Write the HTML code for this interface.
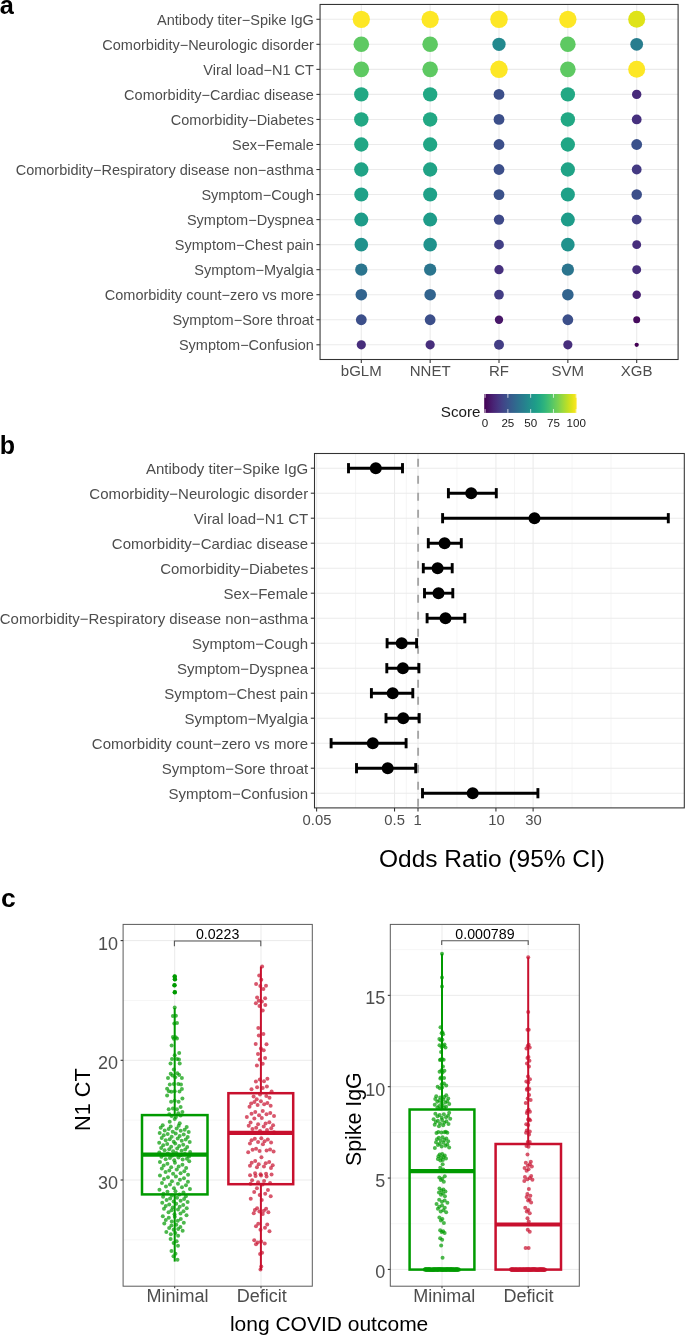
<!DOCTYPE html>
<html><head><meta charset="utf-8"><title>Figure</title>
<style>
html,body{margin:0;padding:0;background:#fff;}
body{width:685px;height:1336px;overflow:hidden;}
svg{display:block;font-family:"Liberation Sans", sans-serif;filter:blur(0.3px);}
</style></head>
<body>
<svg width="685" height="1336" viewBox="0 0 685 1336">
<rect width="685" height="1336" fill="#fff"/>
<text x="-0.3" y="14" font-size="25.3" text-anchor="start" fill="#000" font-weight="bold">a</text>
<line x1="320.05" y1="19.28" x2="678.1" y2="19.28" stroke="#ebebeb" stroke-width="1.07"/>
<line x1="320.05" y1="44.32" x2="678.1" y2="44.32" stroke="#ebebeb" stroke-width="1.07"/>
<line x1="320.05" y1="69.36" x2="678.1" y2="69.36" stroke="#ebebeb" stroke-width="1.07"/>
<line x1="320.05" y1="94.4" x2="678.1" y2="94.4" stroke="#ebebeb" stroke-width="1.07"/>
<line x1="320.05" y1="119.44" x2="678.1" y2="119.44" stroke="#ebebeb" stroke-width="1.07"/>
<line x1="320.05" y1="144.48" x2="678.1" y2="144.48" stroke="#ebebeb" stroke-width="1.07"/>
<line x1="320.05" y1="169.52" x2="678.1" y2="169.52" stroke="#ebebeb" stroke-width="1.07"/>
<line x1="320.05" y1="194.56" x2="678.1" y2="194.56" stroke="#ebebeb" stroke-width="1.07"/>
<line x1="320.05" y1="219.6" x2="678.1" y2="219.6" stroke="#ebebeb" stroke-width="1.07"/>
<line x1="320.05" y1="244.64" x2="678.1" y2="244.64" stroke="#ebebeb" stroke-width="1.07"/>
<line x1="320.05" y1="269.68" x2="678.1" y2="269.68" stroke="#ebebeb" stroke-width="1.07"/>
<line x1="320.05" y1="294.72" x2="678.1" y2="294.72" stroke="#ebebeb" stroke-width="1.07"/>
<line x1="320.05" y1="319.76" x2="678.1" y2="319.76" stroke="#ebebeb" stroke-width="1.07"/>
<line x1="320.05" y1="344.8" x2="678.1" y2="344.8" stroke="#ebebeb" stroke-width="1.07"/>
<line x1="361.3" y1="4.45" x2="361.3" y2="359.5" stroke="#ebebeb" stroke-width="1.07"/>
<line x1="430.15" y1="4.45" x2="430.15" y2="359.5" stroke="#ebebeb" stroke-width="1.07"/>
<line x1="499" y1="4.45" x2="499" y2="359.5" stroke="#ebebeb" stroke-width="1.07"/>
<line x1="567.85" y1="4.45" x2="567.85" y2="359.5" stroke="#ebebeb" stroke-width="1.07"/>
<line x1="636.7" y1="4.45" x2="636.7" y2="359.5" stroke="#ebebeb" stroke-width="1.07"/>
<circle cx="361.3" cy="19.28" r="8.65" fill="#fde725"/>
<circle cx="361.3" cy="44.32" r="7.8" fill="#5ec962"/>
<circle cx="361.3" cy="69.36" r="7.8" fill="#5ec962"/>
<circle cx="361.3" cy="94.4" r="7.2" fill="#22a884"/>
<circle cx="361.3" cy="119.44" r="7.2" fill="#22a884"/>
<circle cx="361.3" cy="144.48" r="7.15" fill="#21a685"/>
<circle cx="361.3" cy="169.52" r="7.15" fill="#20a386"/>
<circle cx="361.3" cy="194.56" r="7.05" fill="#1fa188"/>
<circle cx="361.3" cy="219.6" r="7" fill="#1e9c89"/>
<circle cx="361.3" cy="244.64" r="6.8" fill="#20928c"/>
<circle cx="361.3" cy="269.68" r="6.15" fill="#2b758e"/>
<circle cx="361.3" cy="294.72" r="5.8" fill="#32648e"/>
<circle cx="361.3" cy="319.76" r="5.4" fill="#3c4f8a"/>
<circle cx="361.3" cy="344.8" r="4.6" fill="#472e7c"/>
<circle cx="430.15" cy="19.28" r="8.65" fill="#fde725"/>
<circle cx="430.15" cy="44.32" r="7.8" fill="#5ec962"/>
<circle cx="430.15" cy="69.36" r="7.8" fill="#5ec962"/>
<circle cx="430.15" cy="94.4" r="7.2" fill="#22a884"/>
<circle cx="430.15" cy="119.44" r="7.2" fill="#22a884"/>
<circle cx="430.15" cy="144.48" r="7.15" fill="#21a685"/>
<circle cx="430.15" cy="169.52" r="7.15" fill="#20a386"/>
<circle cx="430.15" cy="194.56" r="7.05" fill="#1fa188"/>
<circle cx="430.15" cy="219.6" r="7" fill="#1e9c89"/>
<circle cx="430.15" cy="244.64" r="6.8" fill="#20928c"/>
<circle cx="430.15" cy="269.68" r="6.15" fill="#2b758e"/>
<circle cx="430.15" cy="294.72" r="5.8" fill="#32648e"/>
<circle cx="430.15" cy="319.76" r="5.4" fill="#3c4f8a"/>
<circle cx="430.15" cy="344.8" r="4.6" fill="#472e7c"/>
<circle cx="499" cy="19.28" r="8.75" fill="#fde725"/>
<circle cx="499" cy="44.32" r="6.65" fill="#23898e"/>
<circle cx="499" cy="69.36" r="8.75" fill="#fde725"/>
<circle cx="499" cy="94.4" r="5.4" fill="#3c4f8a"/>
<circle cx="499" cy="119.44" r="5.4" fill="#3c4f8a"/>
<circle cx="499" cy="144.48" r="5.4" fill="#3c4f8a"/>
<circle cx="499" cy="169.52" r="5.4" fill="#3c4f8a"/>
<circle cx="499" cy="194.56" r="5.4" fill="#3b528b"/>
<circle cx="499" cy="219.6" r="5.2" fill="#3e4989"/>
<circle cx="499" cy="244.64" r="4.9" fill="#424086"/>
<circle cx="499" cy="269.68" r="4.65" fill="#46307e"/>
<circle cx="499" cy="294.72" r="4.85" fill="#433e85"/>
<circle cx="499" cy="319.76" r="4.2" fill="#481769"/>
<circle cx="499" cy="344.8" r="5" fill="#433e85"/>
<circle cx="567.85" cy="19.28" r="8.65" fill="#fde725"/>
<circle cx="567.85" cy="44.32" r="7.8" fill="#5ec962"/>
<circle cx="567.85" cy="69.36" r="7.8" fill="#5ec962"/>
<circle cx="567.85" cy="94.4" r="7.2" fill="#22a884"/>
<circle cx="567.85" cy="119.44" r="7.2" fill="#22a884"/>
<circle cx="567.85" cy="144.48" r="7.15" fill="#21a685"/>
<circle cx="567.85" cy="169.52" r="7.15" fill="#20a386"/>
<circle cx="567.85" cy="194.56" r="7.05" fill="#1fa188"/>
<circle cx="567.85" cy="219.6" r="7" fill="#1e9c89"/>
<circle cx="567.85" cy="244.64" r="6.8" fill="#20928c"/>
<circle cx="567.85" cy="269.68" r="6.15" fill="#2b758e"/>
<circle cx="567.85" cy="294.72" r="5.8" fill="#32648e"/>
<circle cx="567.85" cy="319.76" r="5.4" fill="#3c4f8a"/>
<circle cx="567.85" cy="344.8" r="4.6" fill="#472e7c"/>
<circle cx="636.7" cy="19.28" r="8.5" fill="#dfe318"/>
<circle cx="636.7" cy="44.32" r="6.4" fill="#287d8e"/>
<circle cx="636.7" cy="69.36" r="8.5" fill="#fde725"/>
<circle cx="636.7" cy="94.4" r="4.7" fill="#472a7a"/>
<circle cx="636.7" cy="119.44" r="4.9" fill="#46307e"/>
<circle cx="636.7" cy="144.48" r="5.4" fill="#3b528b"/>
<circle cx="636.7" cy="169.52" r="4.9" fill="#443a83"/>
<circle cx="636.7" cy="194.56" r="5.25" fill="#3c4f8a"/>
<circle cx="636.7" cy="219.6" r="4.9" fill="#433e85"/>
<circle cx="636.7" cy="244.64" r="4.45" fill="#472e7c"/>
<circle cx="636.7" cy="269.68" r="4.45" fill="#472e7c"/>
<circle cx="636.7" cy="294.72" r="4.25" fill="#482173"/>
<circle cx="636.7" cy="319.76" r="3.5" fill="#460b5e"/>
<circle cx="636.7" cy="344.8" r="2.15" fill="#440154"/>
<rect x="320.05" y="4.45" width="358.05" height="355.05" fill="none" stroke="#333333" stroke-width="1.07"/>
<line x1="316.4" y1="19.28" x2="320.05" y2="19.28" stroke="#333333" stroke-width="1.07"/>
<text x="313.9" y="24.68" font-size="14.5" text-anchor="end" fill="#4d4d4d">Antibody titer−Spike IgG</text>
<line x1="316.4" y1="44.32" x2="320.05" y2="44.32" stroke="#333333" stroke-width="1.07"/>
<text x="313.9" y="49.72" font-size="14.5" text-anchor="end" fill="#4d4d4d">Comorbidity−Neurologic disorder</text>
<line x1="316.4" y1="69.36" x2="320.05" y2="69.36" stroke="#333333" stroke-width="1.07"/>
<text x="313.9" y="74.76" font-size="14.5" text-anchor="end" fill="#4d4d4d">Viral load−N1 CT</text>
<line x1="316.4" y1="94.4" x2="320.05" y2="94.4" stroke="#333333" stroke-width="1.07"/>
<text x="313.9" y="99.8" font-size="14.5" text-anchor="end" fill="#4d4d4d">Comorbidity−Cardiac disease</text>
<line x1="316.4" y1="119.44" x2="320.05" y2="119.44" stroke="#333333" stroke-width="1.07"/>
<text x="313.9" y="124.84" font-size="14.5" text-anchor="end" fill="#4d4d4d">Comorbidity−Diabetes</text>
<line x1="316.4" y1="144.48" x2="320.05" y2="144.48" stroke="#333333" stroke-width="1.07"/>
<text x="313.9" y="149.88" font-size="14.5" text-anchor="end" fill="#4d4d4d">Sex−Female</text>
<line x1="316.4" y1="169.52" x2="320.05" y2="169.52" stroke="#333333" stroke-width="1.07"/>
<text x="313.9" y="174.92" font-size="14.5" text-anchor="end" fill="#4d4d4d">Comorbidity−Respiratory disease non−asthma</text>
<line x1="316.4" y1="194.56" x2="320.05" y2="194.56" stroke="#333333" stroke-width="1.07"/>
<text x="313.9" y="199.96" font-size="14.5" text-anchor="end" fill="#4d4d4d">Symptom−Cough</text>
<line x1="316.4" y1="219.6" x2="320.05" y2="219.6" stroke="#333333" stroke-width="1.07"/>
<text x="313.9" y="225" font-size="14.5" text-anchor="end" fill="#4d4d4d">Symptom−Dyspnea</text>
<line x1="316.4" y1="244.64" x2="320.05" y2="244.64" stroke="#333333" stroke-width="1.07"/>
<text x="313.9" y="250.04" font-size="14.5" text-anchor="end" fill="#4d4d4d">Symptom−Chest pain</text>
<line x1="316.4" y1="269.68" x2="320.05" y2="269.68" stroke="#333333" stroke-width="1.07"/>
<text x="313.9" y="275.08" font-size="14.5" text-anchor="end" fill="#4d4d4d">Symptom−Myalgia</text>
<line x1="316.4" y1="294.72" x2="320.05" y2="294.72" stroke="#333333" stroke-width="1.07"/>
<text x="313.9" y="300.12" font-size="14.5" text-anchor="end" fill="#4d4d4d">Comorbidity count−zero vs more</text>
<line x1="316.4" y1="319.76" x2="320.05" y2="319.76" stroke="#333333" stroke-width="1.07"/>
<text x="313.9" y="325.16" font-size="14.5" text-anchor="end" fill="#4d4d4d">Symptom−Sore throat</text>
<line x1="316.4" y1="344.8" x2="320.05" y2="344.8" stroke="#333333" stroke-width="1.07"/>
<text x="313.9" y="350.2" font-size="14.5" text-anchor="end" fill="#4d4d4d">Symptom−Confusion</text>
<line x1="361.3" y1="359.5" x2="361.3" y2="363" stroke="#333333" stroke-width="1.07"/>
<text x="361.3" y="376" font-size="15" text-anchor="middle" fill="#4d4d4d">bGLM</text>
<line x1="430.15" y1="359.5" x2="430.15" y2="363" stroke="#333333" stroke-width="1.07"/>
<text x="430.15" y="376" font-size="15" text-anchor="middle" fill="#4d4d4d">NNET</text>
<line x1="499" y1="359.5" x2="499" y2="363" stroke="#333333" stroke-width="1.07"/>
<text x="499" y="376" font-size="15" text-anchor="middle" fill="#4d4d4d">RF</text>
<line x1="567.85" y1="359.5" x2="567.85" y2="363" stroke="#333333" stroke-width="1.07"/>
<text x="567.85" y="376" font-size="15" text-anchor="middle" fill="#4d4d4d">SVM</text>
<line x1="636.7" y1="359.5" x2="636.7" y2="363" stroke="#333333" stroke-width="1.07"/>
<text x="636.7" y="376" font-size="15" text-anchor="middle" fill="#4d4d4d">XGB</text>
<defs><linearGradient id="vg" x1="0" x2="1" y1="0" y2="0">
<stop offset="0" stop-color="#440154"/>
<stop offset="0.05" stop-color="#471365"/>
<stop offset="0.1" stop-color="#482475"/>
<stop offset="0.15" stop-color="#463480"/>
<stop offset="0.2" stop-color="#414487"/>
<stop offset="0.25" stop-color="#3b528b"/>
<stop offset="0.3" stop-color="#355f8d"/>
<stop offset="0.35" stop-color="#2f6c8e"/>
<stop offset="0.4" stop-color="#2a788e"/>
<stop offset="0.45" stop-color="#25848e"/>
<stop offset="0.5" stop-color="#21918c"/>
<stop offset="0.55" stop-color="#1e9c89"/>
<stop offset="0.6" stop-color="#22a884"/>
<stop offset="0.65" stop-color="#2fb47c"/>
<stop offset="0.7" stop-color="#44bf70"/>
<stop offset="0.75" stop-color="#5ec962"/>
<stop offset="0.8" stop-color="#7ad151"/>
<stop offset="0.85" stop-color="#9bd93c"/>
<stop offset="0.9" stop-color="#bddf26"/>
<stop offset="0.95" stop-color="#dfe318"/>
<stop offset="1" stop-color="#fde725"/>
</linearGradient></defs>
<rect x="484.2" y="394" width="92.4" height="18.9" fill="url(#vg)"/>
<line x1="485.1" y1="394" x2="485.1" y2="397.8" stroke="rgba(255,255,255,0.75)" stroke-width="1"/>
<line x1="485.1" y1="409.1" x2="485.1" y2="412.9" stroke="rgba(255,255,255,0.75)" stroke-width="1"/>
<text x="485.1" y="427.1" font-size="11.6" text-anchor="middle" fill="#1a1a1a">0</text>
<line x1="507.88" y1="394" x2="507.88" y2="397.8" stroke="rgba(255,255,255,0.75)" stroke-width="1"/>
<line x1="507.88" y1="409.1" x2="507.88" y2="412.9" stroke="rgba(255,255,255,0.75)" stroke-width="1"/>
<text x="507.88" y="427.1" font-size="11.6" text-anchor="middle" fill="#1a1a1a">25</text>
<line x1="530.66" y1="394" x2="530.66" y2="397.8" stroke="rgba(255,255,255,0.75)" stroke-width="1"/>
<line x1="530.66" y1="409.1" x2="530.66" y2="412.9" stroke="rgba(255,255,255,0.75)" stroke-width="1"/>
<text x="530.66" y="427.1" font-size="11.6" text-anchor="middle" fill="#1a1a1a">50</text>
<line x1="553.44" y1="394" x2="553.44" y2="397.8" stroke="rgba(255,255,255,0.75)" stroke-width="1"/>
<line x1="553.44" y1="409.1" x2="553.44" y2="412.9" stroke="rgba(255,255,255,0.75)" stroke-width="1"/>
<text x="553.44" y="427.1" font-size="11.6" text-anchor="middle" fill="#1a1a1a">75</text>
<line x1="576.22" y1="394" x2="576.22" y2="397.8" stroke="rgba(255,255,255,0.75)" stroke-width="1"/>
<line x1="576.22" y1="409.1" x2="576.22" y2="412.9" stroke="rgba(255,255,255,0.75)" stroke-width="1"/>
<text x="576.22" y="427.1" font-size="11.6" text-anchor="middle" fill="#1a1a1a">100</text>
<text x="440.8" y="417.2" font-size="15.2" text-anchor="start" fill="#1a1a1a">Score</text>
<text x="-0.2" y="453.6" font-size="25" text-anchor="start" fill="#000" font-weight="bold">b</text>
<line x1="355.58" y1="453.5" x2="355.58" y2="807.9" stroke="#f3f3f3" stroke-width="0.8"/>
<line x1="406.27" y1="453.5" x2="406.27" y2="807.9" stroke="#f3f3f3" stroke-width="0.8"/>
<line x1="456.97" y1="453.5" x2="456.97" y2="807.9" stroke="#f3f3f3" stroke-width="0.8"/>
<line x1="514.52" y1="453.5" x2="514.52" y2="807.9" stroke="#f3f3f3" stroke-width="0.8"/>
<line x1="572.07" y1="453.5" x2="572.07" y2="807.9" stroke="#f3f3f3" stroke-width="0.8"/>
<line x1="611.03" y1="453.5" x2="611.03" y2="807.9" stroke="#f3f3f3" stroke-width="0.8"/>
<line x1="314.5" y1="468.2" x2="684.3" y2="468.2" stroke="#ebebeb" stroke-width="1.07"/>
<line x1="314.5" y1="493.2" x2="684.3" y2="493.2" stroke="#ebebeb" stroke-width="1.07"/>
<line x1="314.5" y1="518.2" x2="684.3" y2="518.2" stroke="#ebebeb" stroke-width="1.07"/>
<line x1="314.5" y1="543.2" x2="684.3" y2="543.2" stroke="#ebebeb" stroke-width="1.07"/>
<line x1="314.5" y1="568.2" x2="684.3" y2="568.2" stroke="#ebebeb" stroke-width="1.07"/>
<line x1="314.5" y1="593.2" x2="684.3" y2="593.2" stroke="#ebebeb" stroke-width="1.07"/>
<line x1="314.5" y1="618.2" x2="684.3" y2="618.2" stroke="#ebebeb" stroke-width="1.07"/>
<line x1="314.5" y1="643.2" x2="684.3" y2="643.2" stroke="#ebebeb" stroke-width="1.07"/>
<line x1="314.5" y1="668.2" x2="684.3" y2="668.2" stroke="#ebebeb" stroke-width="1.07"/>
<line x1="314.5" y1="693.2" x2="684.3" y2="693.2" stroke="#ebebeb" stroke-width="1.07"/>
<line x1="314.5" y1="718.2" x2="684.3" y2="718.2" stroke="#ebebeb" stroke-width="1.07"/>
<line x1="314.5" y1="743.2" x2="684.3" y2="743.2" stroke="#ebebeb" stroke-width="1.07"/>
<line x1="314.5" y1="768.2" x2="684.3" y2="768.2" stroke="#ebebeb" stroke-width="1.07"/>
<line x1="314.5" y1="793.2" x2="684.3" y2="793.2" stroke="#ebebeb" stroke-width="1.07"/>
<line x1="316.61" y1="453.5" x2="316.61" y2="807.9" stroke="#ebebeb" stroke-width="1.07"/>
<line x1="394.54" y1="453.5" x2="394.54" y2="807.9" stroke="#ebebeb" stroke-width="1.07"/>
<line x1="418" y1="453.5" x2="418" y2="807.9" stroke="#ebebeb" stroke-width="1.07"/>
<line x1="495.93" y1="453.5" x2="495.93" y2="807.9" stroke="#ebebeb" stroke-width="1.07"/>
<line x1="533.11" y1="453.5" x2="533.11" y2="807.9" stroke="#ebebeb" stroke-width="1.07"/>
<line x1="418.1" y1="806.7" x2="418.1" y2="453.5" stroke="#a6a6a6" stroke-width="1.9" stroke-dasharray="8 9"/>
<line x1="348.5" y1="468.2" x2="402.5" y2="468.2" stroke="#000" stroke-width="2.9"/>
<line x1="348.5" y1="463.1" x2="348.5" y2="473.3" stroke="#000" stroke-width="2.9"/>
<line x1="402.5" y1="463.1" x2="402.5" y2="473.3" stroke="#000" stroke-width="2.9"/>
<circle cx="375.8" cy="468.2" r="6.0" fill="#000"/>
<line x1="448.4" y1="493.2" x2="496.3" y2="493.2" stroke="#000" stroke-width="2.9"/>
<line x1="448.4" y1="488.1" x2="448.4" y2="498.3" stroke="#000" stroke-width="2.9"/>
<line x1="496.3" y1="488.1" x2="496.3" y2="498.3" stroke="#000" stroke-width="2.9"/>
<circle cx="471.2" cy="493.2" r="6.0" fill="#000"/>
<line x1="442.6" y1="518.2" x2="668.3" y2="518.2" stroke="#000" stroke-width="2.9"/>
<line x1="442.6" y1="513.1" x2="442.6" y2="523.3" stroke="#000" stroke-width="2.9"/>
<line x1="668.3" y1="513.1" x2="668.3" y2="523.3" stroke="#000" stroke-width="2.9"/>
<circle cx="534.5" cy="518.2" r="6.0" fill="#000"/>
<line x1="428.3" y1="543.2" x2="461.3" y2="543.2" stroke="#000" stroke-width="2.9"/>
<line x1="428.3" y1="538.1" x2="428.3" y2="548.3" stroke="#000" stroke-width="2.9"/>
<line x1="461.3" y1="538.1" x2="461.3" y2="548.3" stroke="#000" stroke-width="2.9"/>
<circle cx="444.6" cy="543.2" r="6.0" fill="#000"/>
<line x1="423.3" y1="568.2" x2="452.2" y2="568.2" stroke="#000" stroke-width="2.9"/>
<line x1="423.3" y1="563.1" x2="423.3" y2="573.3" stroke="#000" stroke-width="2.9"/>
<line x1="452.2" y1="563.1" x2="452.2" y2="573.3" stroke="#000" stroke-width="2.9"/>
<circle cx="437.6" cy="568.2" r="6.0" fill="#000"/>
<line x1="424.5" y1="593.2" x2="452.8" y2="593.2" stroke="#000" stroke-width="2.9"/>
<line x1="424.5" y1="588.1" x2="424.5" y2="598.3" stroke="#000" stroke-width="2.9"/>
<line x1="452.8" y1="588.1" x2="452.8" y2="598.3" stroke="#000" stroke-width="2.9"/>
<circle cx="438.5" cy="593.2" r="6.0" fill="#000"/>
<line x1="427.1" y1="618.2" x2="464.8" y2="618.2" stroke="#000" stroke-width="2.9"/>
<line x1="427.1" y1="613.1" x2="427.1" y2="623.3" stroke="#000" stroke-width="2.9"/>
<line x1="464.8" y1="613.1" x2="464.8" y2="623.3" stroke="#000" stroke-width="2.9"/>
<circle cx="445.5" cy="618.2" r="6.0" fill="#000"/>
<line x1="387.1" y1="643.2" x2="416.6" y2="643.2" stroke="#000" stroke-width="2.9"/>
<line x1="387.1" y1="638.1" x2="387.1" y2="648.3" stroke="#000" stroke-width="2.9"/>
<line x1="416.6" y1="638.1" x2="416.6" y2="648.3" stroke="#000" stroke-width="2.9"/>
<circle cx="401.7" cy="643.2" r="6.0" fill="#000"/>
<line x1="386.8" y1="668.2" x2="418.9" y2="668.2" stroke="#000" stroke-width="2.9"/>
<line x1="386.8" y1="663.1" x2="386.8" y2="673.3" stroke="#000" stroke-width="2.9"/>
<line x1="418.9" y1="663.1" x2="418.9" y2="673.3" stroke="#000" stroke-width="2.9"/>
<circle cx="402.9" cy="668.2" r="6.0" fill="#000"/>
<line x1="371.4" y1="693.2" x2="412.8" y2="693.2" stroke="#000" stroke-width="2.9"/>
<line x1="371.4" y1="688.1" x2="371.4" y2="698.3" stroke="#000" stroke-width="2.9"/>
<line x1="412.8" y1="688.1" x2="412.8" y2="698.3" stroke="#000" stroke-width="2.9"/>
<circle cx="392.7" cy="693.2" r="6.0" fill="#000"/>
<line x1="386" y1="718.2" x2="419.2" y2="718.2" stroke="#000" stroke-width="2.9"/>
<line x1="386" y1="713.1" x2="386" y2="723.3" stroke="#000" stroke-width="2.9"/>
<line x1="419.2" y1="713.1" x2="419.2" y2="723.3" stroke="#000" stroke-width="2.9"/>
<circle cx="403.2" cy="718.2" r="6.0" fill="#000"/>
<line x1="331.1" y1="743.2" x2="406.1" y2="743.2" stroke="#000" stroke-width="2.9"/>
<line x1="331.1" y1="738.1" x2="331.1" y2="748.3" stroke="#000" stroke-width="2.9"/>
<line x1="406.1" y1="738.1" x2="406.1" y2="748.3" stroke="#000" stroke-width="2.9"/>
<circle cx="372.8" cy="743.2" r="6.0" fill="#000"/>
<line x1="356.5" y1="768.2" x2="415.7" y2="768.2" stroke="#000" stroke-width="2.9"/>
<line x1="356.5" y1="763.1" x2="356.5" y2="773.3" stroke="#000" stroke-width="2.9"/>
<line x1="415.7" y1="763.1" x2="415.7" y2="773.3" stroke="#000" stroke-width="2.9"/>
<circle cx="387.7" cy="768.2" r="6.0" fill="#000"/>
<line x1="422.5" y1="793.2" x2="537.9" y2="793.2" stroke="#000" stroke-width="2.9"/>
<line x1="422.5" y1="788.1" x2="422.5" y2="798.3" stroke="#000" stroke-width="2.9"/>
<line x1="537.9" y1="788.1" x2="537.9" y2="798.3" stroke="#000" stroke-width="2.9"/>
<circle cx="472.7" cy="793.2" r="6.0" fill="#000"/>
<rect x="314.5" y="453.5" width="369.8" height="354.4" fill="none" stroke="#333333" stroke-width="1.07"/>
<line x1="310.8" y1="468.2" x2="314.5" y2="468.2" stroke="#333333" stroke-width="1.07"/>
<text x="308.2" y="473.7" font-size="15" text-anchor="end" fill="#4d4d4d">Antibody titer−Spike IgG</text>
<line x1="310.8" y1="493.2" x2="314.5" y2="493.2" stroke="#333333" stroke-width="1.07"/>
<text x="308.2" y="498.7" font-size="15" text-anchor="end" fill="#4d4d4d">Comorbidity−Neurologic disorder</text>
<line x1="310.8" y1="518.2" x2="314.5" y2="518.2" stroke="#333333" stroke-width="1.07"/>
<text x="308.2" y="523.7" font-size="15" text-anchor="end" fill="#4d4d4d">Viral load−N1 CT</text>
<line x1="310.8" y1="543.2" x2="314.5" y2="543.2" stroke="#333333" stroke-width="1.07"/>
<text x="308.2" y="548.7" font-size="15" text-anchor="end" fill="#4d4d4d">Comorbidity−Cardiac disease</text>
<line x1="310.8" y1="568.2" x2="314.5" y2="568.2" stroke="#333333" stroke-width="1.07"/>
<text x="308.2" y="573.7" font-size="15" text-anchor="end" fill="#4d4d4d">Comorbidity−Diabetes</text>
<line x1="310.8" y1="593.2" x2="314.5" y2="593.2" stroke="#333333" stroke-width="1.07"/>
<text x="308.2" y="598.7" font-size="15" text-anchor="end" fill="#4d4d4d">Sex−Female</text>
<line x1="310.8" y1="618.2" x2="314.5" y2="618.2" stroke="#333333" stroke-width="1.07"/>
<text x="308.2" y="623.7" font-size="15" text-anchor="end" fill="#4d4d4d">Comorbidity−Respiratory disease non−asthma</text>
<line x1="310.8" y1="643.2" x2="314.5" y2="643.2" stroke="#333333" stroke-width="1.07"/>
<text x="308.2" y="648.7" font-size="15" text-anchor="end" fill="#4d4d4d">Symptom−Cough</text>
<line x1="310.8" y1="668.2" x2="314.5" y2="668.2" stroke="#333333" stroke-width="1.07"/>
<text x="308.2" y="673.7" font-size="15" text-anchor="end" fill="#4d4d4d">Symptom−Dyspnea</text>
<line x1="310.8" y1="693.2" x2="314.5" y2="693.2" stroke="#333333" stroke-width="1.07"/>
<text x="308.2" y="698.7" font-size="15" text-anchor="end" fill="#4d4d4d">Symptom−Chest pain</text>
<line x1="310.8" y1="718.2" x2="314.5" y2="718.2" stroke="#333333" stroke-width="1.07"/>
<text x="308.2" y="723.7" font-size="15" text-anchor="end" fill="#4d4d4d">Symptom−Myalgia</text>
<line x1="310.8" y1="743.2" x2="314.5" y2="743.2" stroke="#333333" stroke-width="1.07"/>
<text x="308.2" y="748.7" font-size="15" text-anchor="end" fill="#4d4d4d">Comorbidity count−zero vs more</text>
<line x1="310.8" y1="768.2" x2="314.5" y2="768.2" stroke="#333333" stroke-width="1.07"/>
<text x="308.2" y="773.7" font-size="15" text-anchor="end" fill="#4d4d4d">Symptom−Sore throat</text>
<line x1="310.8" y1="793.2" x2="314.5" y2="793.2" stroke="#333333" stroke-width="1.07"/>
<text x="308.2" y="798.7" font-size="15" text-anchor="end" fill="#4d4d4d">Symptom−Confusion</text>
<line x1="316.61" y1="807.9" x2="316.61" y2="811.4" stroke="#333333" stroke-width="1.07"/>
<text x="317" y="825.3" font-size="14.8" text-anchor="middle" fill="#4d4d4d">0.05</text>
<line x1="394.54" y1="807.9" x2="394.54" y2="811.4" stroke="#333333" stroke-width="1.07"/>
<text x="394.6" y="825.3" font-size="14.8" text-anchor="middle" fill="#4d4d4d">0.5</text>
<line x1="418" y1="807.9" x2="418" y2="811.4" stroke="#333333" stroke-width="1.07"/>
<text x="417.6" y="825.3" font-size="14.8" text-anchor="middle" fill="#4d4d4d">1</text>
<line x1="495.93" y1="807.9" x2="495.93" y2="811.4" stroke="#333333" stroke-width="1.07"/>
<text x="496.4" y="825.3" font-size="14.8" text-anchor="middle" fill="#4d4d4d">10</text>
<line x1="533.11" y1="807.9" x2="533.11" y2="811.4" stroke="#333333" stroke-width="1.07"/>
<text x="533.5" y="825.3" font-size="14.8" text-anchor="middle" fill="#4d4d4d">30</text>
<text x="492" y="867.4" font-size="24.5" text-anchor="middle" fill="#000">Odds Ratio (95% CI)</text>
<text x="1" y="906.5" font-size="26.5" text-anchor="start" fill="#000" font-weight="bold">c</text>
<line x1="123.1" y1="1000.45" x2="312.3" y2="1000.45" stroke="#f4f4f4" stroke-width="0.8"/>
<line x1="123.1" y1="1120.15" x2="312.3" y2="1120.15" stroke="#f4f4f4" stroke-width="0.8"/>
<line x1="123.1" y1="1239.85" x2="312.3" y2="1239.85" stroke="#f4f4f4" stroke-width="0.8"/>
<line x1="123.1" y1="940.6" x2="312.3" y2="940.6" stroke="#ebebeb" stroke-width="1"/>
<line x1="123.1" y1="1060.3" x2="312.3" y2="1060.3" stroke="#ebebeb" stroke-width="1"/>
<line x1="123.1" y1="1180" x2="312.3" y2="1180" stroke="#ebebeb" stroke-width="1"/>
<line x1="174.7" y1="924.4" x2="174.7" y2="1286.2" stroke="#ebebeb" stroke-width="1"/>
<line x1="261" y1="924.4" x2="261" y2="1286.2" stroke="#ebebeb" stroke-width="1"/>
<line x1="390.3" y1="1223.73" x2="579.3" y2="1223.73" stroke="#f4f4f4" stroke-width="0.8"/>
<line x1="390.3" y1="1132.38" x2="579.3" y2="1132.38" stroke="#f4f4f4" stroke-width="0.8"/>
<line x1="390.3" y1="1041.03" x2="579.3" y2="1041.03" stroke="#f4f4f4" stroke-width="0.8"/>
<line x1="390.3" y1="949.68" x2="579.3" y2="949.68" stroke="#f4f4f4" stroke-width="0.8"/>
<line x1="390.3" y1="1269.4" x2="579.3" y2="1269.4" stroke="#ebebeb" stroke-width="1"/>
<line x1="390.3" y1="1178.05" x2="579.3" y2="1178.05" stroke="#ebebeb" stroke-width="1"/>
<line x1="390.3" y1="1086.7" x2="579.3" y2="1086.7" stroke="#ebebeb" stroke-width="1"/>
<line x1="390.3" y1="995.35" x2="579.3" y2="995.35" stroke="#ebebeb" stroke-width="1"/>
<line x1="442" y1="924.4" x2="442" y2="1286.2" stroke="#ebebeb" stroke-width="1"/>
<line x1="528.2" y1="924.4" x2="528.2" y2="1286.2" stroke="#ebebeb" stroke-width="1"/>
<line x1="174.7" y1="1008" x2="174.7" y2="1115.1" stroke="#009a00" stroke-width="2"/>
<line x1="174.7" y1="1194.4" x2="174.7" y2="1261.6" stroke="#009a00" stroke-width="2"/>
<rect x="142" y="1115.1" width="65.5" height="79.3" fill="none" stroke="#009a00" stroke-width="2.5"/>
<line x1="142" y1="1154.6" x2="207.5" y2="1154.6" stroke="#009a00" stroke-width="4.2"/>
<line x1="260.9" y1="966.6" x2="260.9" y2="1093.2" stroke="#c8102e" stroke-width="2"/>
<line x1="260.9" y1="1184.2" x2="260.9" y2="1270" stroke="#c8102e" stroke-width="2"/>
<rect x="228.4" y="1093.2" width="64.8" height="91" fill="none" stroke="#c8102e" stroke-width="2.5"/>
<line x1="228.4" y1="1132.8" x2="293.2" y2="1132.8" stroke="#c8102e" stroke-width="4.2"/>
<line x1="442" y1="953.7" x2="442" y2="1109.5" stroke="#009a00" stroke-width="2"/>
<rect x="409.6" y="1109.5" width="64.8" height="160.1" fill="none" stroke="#009a00" stroke-width="2.5"/>
<line x1="409.6" y1="1171.1" x2="474.4" y2="1171.1" stroke="#009a00" stroke-width="4.2"/>
<line x1="528.2" y1="957.2" x2="528.2" y2="1144" stroke="#c8102e" stroke-width="2"/>
<rect x="495.6" y="1144" width="65.4" height="125.6" fill="none" stroke="#c8102e" stroke-width="2.5"/>
<line x1="495.6" y1="1224.5" x2="561" y2="1224.5" stroke="#c8102e" stroke-width="4.2"/>
<circle cx="174.7" cy="976.4" r="2.2" fill="#009a00"/>
<circle cx="174.9" cy="979.2" r="2.2" fill="#009a00"/>
<circle cx="174.5" cy="985.2" r="2.2" fill="#009a00"/>
<circle cx="174.8" cy="992.2" r="2.2" fill="#009a00"/>
<circle cx="174.7" cy="1007.6" r="2" fill="rgba(0,154,0,0.7)"/>
<circle cx="172.9" cy="1016" r="2" fill="rgba(0,154,0,0.7)"/>
<circle cx="175.9" cy="1015.7" r="2" fill="rgba(0,154,0,0.7)"/>
<circle cx="174.3" cy="1023.6" r="2" fill="rgba(0,154,0,0.7)"/>
<circle cx="177" cy="1022.9" r="2" fill="rgba(0,154,0,0.7)"/>
<circle cx="172.9" cy="1037" r="2" fill="rgba(0,154,0,0.7)"/>
<circle cx="175.6" cy="1037.3" r="2" fill="rgba(0,154,0,0.7)"/>
<circle cx="173.8" cy="1038.7" r="2" fill="rgba(0,154,0,0.7)"/>
<circle cx="177" cy="1038.5" r="2" fill="rgba(0,154,0,0.7)"/>
<circle cx="171.6" cy="1045.4" r="2" fill="rgba(0,154,0,0.7)"/>
<circle cx="179.2" cy="1053" r="2" fill="rgba(0,154,0,0.7)"/>
<circle cx="174.7" cy="1055.3" r="2" fill="rgba(0,154,0,0.7)"/>
<circle cx="172" cy="1059.1" r="2" fill="rgba(0,154,0,0.7)"/>
<circle cx="177" cy="1058.9" r="2" fill="rgba(0,154,0,0.7)"/>
<circle cx="179" cy="1059.6" r="2" fill="rgba(0,154,0,0.7)"/>
<circle cx="170.5" cy="1063.4" r="2" fill="rgba(0,154,0,0.7)"/>
<circle cx="179.7" cy="1063.6" r="2" fill="rgba(0,154,0,0.7)"/>
<circle cx="173.8" cy="1069.4" r="2" fill="rgba(0,154,0,0.7)"/>
<circle cx="170.7" cy="1073.7" r="2" fill="rgba(0,154,0,0.7)"/>
<circle cx="177.4" cy="1073.3" r="2" fill="rgba(0,154,0,0.7)"/>
<circle cx="172.5" cy="1075.5" r="2" fill="rgba(0,154,0,0.7)"/>
<circle cx="179.2" cy="1075.1" r="2" fill="rgba(0,154,0,0.7)"/>
<circle cx="168" cy="1078" r="2" fill="rgba(0,154,0,0.7)"/>
<circle cx="181.9" cy="1078" r="2" fill="rgba(0,154,0,0.7)"/>
<circle cx="175.2" cy="1077.3" r="2" fill="rgba(0,154,0,0.7)"/>
<circle cx="169.8" cy="1084.5" r="2" fill="rgba(0,154,0,0.7)"/>
<circle cx="173.8" cy="1084" r="2" fill="rgba(0,154,0,0.7)"/>
<circle cx="178.3" cy="1084" r="2" fill="rgba(0,154,0,0.7)"/>
<circle cx="181" cy="1084.5" r="2" fill="rgba(0,154,0,0.7)"/>
<circle cx="167.1" cy="1088.8" r="2" fill="rgba(0,154,0,0.7)"/>
<circle cx="181.9" cy="1089" r="2" fill="rgba(0,154,0,0.7)"/>
<circle cx="168.9" cy="1091.2" r="2" fill="rgba(0,154,0,0.7)"/>
<circle cx="171.4" cy="1091.7" r="2" fill="rgba(0,154,0,0.7)"/>
<circle cx="174.7" cy="1091.2" r="2" fill="rgba(0,154,0,0.7)"/>
<circle cx="179.5" cy="1091.5" r="2" fill="rgba(0,154,0,0.7)"/>
<circle cx="167.1" cy="1095.5" r="2" fill="rgba(0,154,0,0.7)"/>
<circle cx="182.4" cy="1098.4" r="2" fill="rgba(0,154,0,0.7)"/>
<circle cx="171.1" cy="1101.8" r="2" fill="rgba(0,154,0,0.7)"/>
<circle cx="174.7" cy="1100.7" r="2" fill="rgba(0,154,0,0.7)"/>
<circle cx="178.6" cy="1101.8" r="2" fill="rgba(0,154,0,0.7)"/>
<circle cx="168.7" cy="1109.2" r="2" fill="rgba(0,154,0,0.7)"/>
<circle cx="172.9" cy="1108.6" r="2" fill="rgba(0,154,0,0.7)"/>
<circle cx="177" cy="1109.2" r="2" fill="rgba(0,154,0,0.7)"/>
<circle cx="180.6" cy="1107" r="2" fill="rgba(0,154,0,0.7)"/>
<circle cx="182.4" cy="1111.9" r="2" fill="rgba(0,154,0,0.7)"/>
<circle cx="169.3" cy="1114.2" r="2" fill="rgba(0,154,0,0.7)"/>
<circle cx="171.6" cy="1116" r="2" fill="rgba(0,154,0,0.7)"/>
<circle cx="175.9" cy="1116.9" r="2" fill="rgba(0,154,0,0.7)"/>
<circle cx="178.3" cy="1113.3" r="2" fill="rgba(0,154,0,0.7)"/>
<circle cx="180.6" cy="1115.5" r="2" fill="rgba(0,154,0,0.7)"/>
<circle cx="174.7" cy="1119.05" r="2" fill="rgba(0,154,0,0.7)"/>
<circle cx="169.7" cy="1121.81" r="2" fill="rgba(0,154,0,0.7)"/>
<circle cx="179.7" cy="1123.13" r="2" fill="rgba(0,154,0,0.7)"/>
<circle cx="162.7" cy="1125.24" r="2" fill="rgba(0,154,0,0.7)"/>
<circle cx="178.7" cy="1125.81" r="2" fill="rgba(0,154,0,0.7)"/>
<circle cx="170.7" cy="1126.41" r="2" fill="rgba(0,154,0,0.7)"/>
<circle cx="186.7" cy="1127.07" r="2" fill="rgba(0,154,0,0.7)"/>
<circle cx="160.7" cy="1127.75" r="2" fill="rgba(0,154,0,0.7)"/>
<circle cx="176.7" cy="1128.4" r="2" fill="rgba(0,154,0,0.7)"/>
<circle cx="168.7" cy="1129.08" r="2" fill="rgba(0,154,0,0.7)"/>
<circle cx="184.7" cy="1129.66" r="2" fill="rgba(0,154,0,0.7)"/>
<circle cx="164.7" cy="1130.38" r="2" fill="rgba(0,154,0,0.7)"/>
<circle cx="180.7" cy="1130.83" r="2" fill="rgba(0,154,0,0.7)"/>
<circle cx="172.7" cy="1131.7" r="2" fill="rgba(0,154,0,0.7)"/>
<circle cx="188.7" cy="1132.01" r="2" fill="rgba(0,154,0,0.7)"/>
<circle cx="159.7" cy="1132.88" r="2" fill="rgba(0,154,0,0.7)"/>
<circle cx="175.7" cy="1133.41" r="2" fill="rgba(0,154,0,0.7)"/>
<circle cx="167.7" cy="1134.08" r="2" fill="rgba(0,154,0,0.7)"/>
<circle cx="183.7" cy="1134.55" r="2" fill="rgba(0,154,0,0.7)"/>
<circle cx="163.7" cy="1135.2" r="2" fill="rgba(0,154,0,0.7)"/>
<circle cx="179.7" cy="1136.05" r="2" fill="rgba(0,154,0,0.7)"/>
<circle cx="171.7" cy="1136.74" r="2" fill="rgba(0,154,0,0.7)"/>
<circle cx="187.7" cy="1137.12" r="2" fill="rgba(0,154,0,0.7)"/>
<circle cx="161.7" cy="1137.88" r="2" fill="rgba(0,154,0,0.7)"/>
<circle cx="177.7" cy="1138.58" r="2" fill="rgba(0,154,0,0.7)"/>
<circle cx="169.7" cy="1139.21" r="2" fill="rgba(0,154,0,0.7)"/>
<circle cx="185.7" cy="1139.53" r="2" fill="rgba(0,154,0,0.7)"/>
<circle cx="165.7" cy="1140.14" r="2" fill="rgba(0,154,0,0.7)"/>
<circle cx="181.7" cy="1140.81" r="2" fill="rgba(0,154,0,0.7)"/>
<circle cx="173.7" cy="1141.7" r="2" fill="rgba(0,154,0,0.7)"/>
<circle cx="189.7" cy="1142.04" r="2" fill="rgba(0,154,0,0.7)"/>
<circle cx="159.2" cy="1142.78" r="2" fill="rgba(0,154,0,0.7)"/>
<circle cx="175.2" cy="1143.61" r="2" fill="rgba(0,154,0,0.7)"/>
<circle cx="167.2" cy="1144.07" r="2" fill="rgba(0,154,0,0.7)"/>
<circle cx="183.2" cy="1144.76" r="2" fill="rgba(0,154,0,0.7)"/>
<circle cx="163.2" cy="1145.24" r="2" fill="rgba(0,154,0,0.7)"/>
<circle cx="179.2" cy="1146.01" r="2" fill="rgba(0,154,0,0.7)"/>
<circle cx="171.2" cy="1146.69" r="2" fill="rgba(0,154,0,0.7)"/>
<circle cx="187.2" cy="1147.01" r="2" fill="rgba(0,154,0,0.7)"/>
<circle cx="161.2" cy="1147.91" r="2" fill="rgba(0,154,0,0.7)"/>
<circle cx="177.2" cy="1148.62" r="2" fill="rgba(0,154,0,0.7)"/>
<circle cx="169.2" cy="1149.16" r="2" fill="rgba(0,154,0,0.7)"/>
<circle cx="185.2" cy="1149.61" r="2" fill="rgba(0,154,0,0.7)"/>
<circle cx="164.61" cy="1150.37" r="2" fill="rgba(0,154,0,0.7)"/>
<circle cx="181.61" cy="1150.7" r="2" fill="rgba(0,154,0,0.7)"/>
<circle cx="173.11" cy="1151.37" r="2" fill="rgba(0,154,0,0.7)"/>
<circle cx="190.11" cy="1152.08" r="2" fill="rgba(0,154,0,0.7)"/>
<circle cx="159.29" cy="1152.43" r="2" fill="rgba(0,154,0,0.7)"/>
<circle cx="176.29" cy="1152.98" r="2" fill="rgba(0,154,0,0.7)"/>
<circle cx="167.79" cy="1153.49" r="2" fill="rgba(0,154,0,0.7)"/>
<circle cx="184.79" cy="1154.01" r="2" fill="rgba(0,154,0,0.7)"/>
<circle cx="163.54" cy="1154.78" r="2" fill="rgba(0,154,0,0.7)"/>
<circle cx="180.54" cy="1155.18" r="2" fill="rgba(0,154,0,0.7)"/>
<circle cx="172.04" cy="1155.76" r="2" fill="rgba(0,154,0,0.7)"/>
<circle cx="189.04" cy="1156.39" r="2" fill="rgba(0,154,0,0.7)"/>
<circle cx="161.42" cy="1156.8" r="2" fill="rgba(0,154,0,0.7)"/>
<circle cx="178.42" cy="1157.52" r="2" fill="rgba(0,154,0,0.7)"/>
<circle cx="169.92" cy="1157.94" r="2" fill="rgba(0,154,0,0.7)"/>
<circle cx="186.92" cy="1158.64" r="2" fill="rgba(0,154,0,0.7)"/>
<circle cx="165.67" cy="1159.23" r="2" fill="rgba(0,154,0,0.7)"/>
<circle cx="182.67" cy="1159.59" r="2" fill="rgba(0,154,0,0.7)"/>
<circle cx="174.23" cy="1160.37" r="2" fill="rgba(0,154,0,0.7)"/>
<circle cx="189.23" cy="1161.35" r="2" fill="rgba(0,154,0,0.7)"/>
<circle cx="159.93" cy="1162.04" r="2" fill="rgba(0,154,0,0.7)"/>
<circle cx="174.93" cy="1162.69" r="2" fill="rgba(0,154,0,0.7)"/>
<circle cx="167.43" cy="1163.77" r="2" fill="rgba(0,154,0,0.7)"/>
<circle cx="182.43" cy="1164.67" r="2" fill="rgba(0,154,0,0.7)"/>
<circle cx="163.68" cy="1165.42" r="2" fill="rgba(0,154,0,0.7)"/>
<circle cx="178.68" cy="1166.47" r="2" fill="rgba(0,154,0,0.7)"/>
<circle cx="171.18" cy="1167.13" r="2" fill="rgba(0,154,0,0.7)"/>
<circle cx="186.18" cy="1168.12" r="2" fill="rgba(0,154,0,0.7)"/>
<circle cx="161.81" cy="1168.57" r="2" fill="rgba(0,154,0,0.7)"/>
<circle cx="176.81" cy="1169.4" r="2" fill="rgba(0,154,0,0.7)"/>
<circle cx="169.31" cy="1170.57" r="2" fill="rgba(0,154,0,0.7)"/>
<circle cx="184.31" cy="1171.2" r="2" fill="rgba(0,154,0,0.7)"/>
<circle cx="165.56" cy="1171.92" r="2" fill="rgba(0,154,0,0.7)"/>
<circle cx="180.56" cy="1173.13" r="2" fill="rgba(0,154,0,0.7)"/>
<circle cx="173.06" cy="1173.67" r="2" fill="rgba(0,154,0,0.7)"/>
<circle cx="188.06" cy="1174.71" r="2" fill="rgba(0,154,0,0.7)"/>
<circle cx="159.95" cy="1175.58" r="2" fill="rgba(0,154,0,0.7)"/>
<circle cx="175.95" cy="1176.57" r="2" fill="rgba(0,154,0,0.7)"/>
<circle cx="167.95" cy="1177.34" r="2" fill="rgba(0,154,0,0.7)"/>
<circle cx="183.95" cy="1178.32" r="2" fill="rgba(0,154,0,0.7)"/>
<circle cx="163.95" cy="1179.01" r="2" fill="rgba(0,154,0,0.7)"/>
<circle cx="179.95" cy="1179.87" r="2" fill="rgba(0,154,0,0.7)"/>
<circle cx="171.95" cy="1181.13" r="2" fill="rgba(0,154,0,0.7)"/>
<circle cx="187.95" cy="1181.78" r="2" fill="rgba(0,154,0,0.7)"/>
<circle cx="161.95" cy="1182.98" r="2" fill="rgba(0,154,0,0.7)"/>
<circle cx="177.95" cy="1183.73" r="2" fill="rgba(0,154,0,0.7)"/>
<circle cx="169.95" cy="1184.61" r="2" fill="rgba(0,154,0,0.7)"/>
<circle cx="185.95" cy="1185.24" r="2" fill="rgba(0,154,0,0.7)"/>
<circle cx="165.95" cy="1186.61" r="2" fill="rgba(0,154,0,0.7)"/>
<circle cx="181.95" cy="1187.25" r="2" fill="rgba(0,154,0,0.7)"/>
<circle cx="173.95" cy="1188.22" r="2" fill="rgba(0,154,0,0.7)"/>
<circle cx="189.95" cy="1189.04" r="2" fill="rgba(0,154,0,0.7)"/>
<circle cx="159.45" cy="1189.86" r="2" fill="rgba(0,154,0,0.7)"/>
<circle cx="175.45" cy="1191.13" r="2" fill="rgba(0,154,0,0.7)"/>
<circle cx="167.45" cy="1191.86" r="2" fill="rgba(0,154,0,0.7)"/>
<circle cx="183.45" cy="1192.46" r="2" fill="rgba(0,154,0,0.7)"/>
<circle cx="163.45" cy="1193.7" r="2" fill="rgba(0,154,0,0.7)"/>
<circle cx="179.45" cy="1194.45" r="2" fill="rgba(0,154,0,0.7)"/>
<circle cx="171.86" cy="1195.39" r="2" fill="rgba(0,154,0,0.7)"/>
<circle cx="185.86" cy="1196.3" r="2" fill="rgba(0,154,0,0.7)"/>
<circle cx="163.11" cy="1196.81" r="2" fill="rgba(0,154,0,0.7)"/>
<circle cx="177.11" cy="1197.81" r="2" fill="rgba(0,154,0,0.7)"/>
<circle cx="170.11" cy="1198.43" r="2" fill="rgba(0,154,0,0.7)"/>
<circle cx="184.11" cy="1198.91" r="2" fill="rgba(0,154,0,0.7)"/>
<circle cx="166.61" cy="1200.07" r="2" fill="rgba(0,154,0,0.7)"/>
<circle cx="180.61" cy="1200.71" r="2" fill="rgba(0,154,0,0.7)"/>
<circle cx="173.61" cy="1201.6" r="2" fill="rgba(0,154,0,0.7)"/>
<circle cx="187.61" cy="1201.98" r="2" fill="rgba(0,154,0,0.7)"/>
<circle cx="162.23" cy="1202.71" r="2" fill="rgba(0,154,0,0.7)"/>
<circle cx="176.23" cy="1203.82" r="2" fill="rgba(0,154,0,0.7)"/>
<circle cx="169.23" cy="1204.46" r="2" fill="rgba(0,154,0,0.7)"/>
<circle cx="183.23" cy="1204.93" r="2" fill="rgba(0,154,0,0.7)"/>
<circle cx="165.73" cy="1205.99" r="2" fill="rgba(0,154,0,0.7)"/>
<circle cx="179.73" cy="1206.74" r="2" fill="rgba(0,154,0,0.7)"/>
<circle cx="172.73" cy="1207.57" r="2" fill="rgba(0,154,0,0.7)"/>
<circle cx="186.73" cy="1208.22" r="2" fill="rgba(0,154,0,0.7)"/>
<circle cx="163.98" cy="1208.71" r="2" fill="rgba(0,154,0,0.7)"/>
<circle cx="177.98" cy="1209.41" r="2" fill="rgba(0,154,0,0.7)"/>
<circle cx="171.51" cy="1210.2" r="2" fill="rgba(0,154,0,0.7)"/>
<circle cx="183.51" cy="1211.14" r="2" fill="rgba(0,154,0,0.7)"/>
<circle cx="168.51" cy="1212.2" r="2" fill="rgba(0,154,0,0.7)"/>
<circle cx="180.51" cy="1213.48" r="2" fill="rgba(0,154,0,0.7)"/>
<circle cx="174.51" cy="1214.24" r="2" fill="rgba(0,154,0,0.7)"/>
<circle cx="186.51" cy="1215.19" r="2" fill="rgba(0,154,0,0.7)"/>
<circle cx="162.79" cy="1216.29" r="2" fill="rgba(0,154,0,0.7)"/>
<circle cx="174.79" cy="1216.82" r="2" fill="rgba(0,154,0,0.7)"/>
<circle cx="168.79" cy="1217.84" r="2" fill="rgba(0,154,0,0.7)"/>
<circle cx="180.79" cy="1218.95" r="2" fill="rgba(0,154,0,0.7)"/>
<circle cx="165.79" cy="1220.11" r="2" fill="rgba(0,154,0,0.7)"/>
<circle cx="177.79" cy="1220.82" r="2" fill="rgba(0,154,0,0.7)"/>
<circle cx="171.79" cy="1221.45" r="2" fill="rgba(0,154,0,0.7)"/>
<circle cx="183.79" cy="1222.83" r="2" fill="rgba(0,154,0,0.7)"/>
<circle cx="164.29" cy="1223.44" r="2" fill="rgba(0,154,0,0.7)"/>
<circle cx="176.29" cy="1224.7" r="2" fill="rgba(0,154,0,0.7)"/>
<circle cx="171.4" cy="1225.48" r="2" fill="rgba(0,154,0,0.7)"/>
<circle cx="180.4" cy="1226.91" r="2" fill="rgba(0,154,0,0.7)"/>
<circle cx="169.15" cy="1227.94" r="2" fill="rgba(0,154,0,0.7)"/>
<circle cx="178.15" cy="1228.93" r="2" fill="rgba(0,154,0,0.7)"/>
<circle cx="173.65" cy="1229.76" r="2" fill="rgba(0,154,0,0.7)"/>
<circle cx="182.65" cy="1230.82" r="2" fill="rgba(0,154,0,0.7)"/>
<circle cx="166.33" cy="1231.97" r="2" fill="rgba(0,154,0,0.7)"/>
<circle cx="175.33" cy="1233.03" r="2" fill="rgba(0,154,0,0.7)"/>
<circle cx="170.83" cy="1234.18" r="2" fill="rgba(0,154,0,0.7)"/>
<circle cx="178.12" cy="1235.84" r="2" fill="rgba(0,154,0,0.7)"/>
<circle cx="170.62" cy="1239.07" r="2" fill="rgba(0,154,0,0.7)"/>
<circle cx="176.62" cy="1241.34" r="2" fill="rgba(0,154,0,0.7)"/>
<circle cx="173.62" cy="1243.02" r="2" fill="rgba(0,154,0,0.7)"/>
<circle cx="177.98" cy="1245.83" r="2" fill="rgba(0,154,0,0.7)"/>
<circle cx="171.48" cy="1251.05" r="2" fill="rgba(0,154,0,0.7)"/>
<circle cx="175.48" cy="1253.64" r="2" fill="rgba(0,154,0,0.7)"/>
<circle cx="173.48" cy="1256.29" r="2" fill="rgba(0,154,0,0.7)"/>
<circle cx="177.48" cy="1259.79" r="2" fill="rgba(0,154,0,0.7)"/>
<circle cx="174.7" cy="976.4" r="2" fill="rgba(0,154,0,0.7)"/>
<circle cx="174.9" cy="979.2" r="2" fill="rgba(0,154,0,0.7)"/>
<circle cx="174.5" cy="985.2" r="2" fill="rgba(0,154,0,0.7)"/>
<circle cx="174.8" cy="992.2" r="2" fill="rgba(0,154,0,0.7)"/>
<circle cx="262.1" cy="966.5" r="2" fill="rgba(200,16,46,0.7)"/>
<circle cx="259.2" cy="975.5" r="2" fill="rgba(200,16,46,0.7)"/>
<circle cx="261.3" cy="979.7" r="2" fill="rgba(200,16,46,0.7)"/>
<circle cx="256.1" cy="983.9" r="2" fill="rgba(200,16,46,0.7)"/>
<circle cx="260.3" cy="986" r="2" fill="rgba(200,16,46,0.7)"/>
<circle cx="266" cy="985.7" r="2" fill="rgba(200,16,46,0.7)"/>
<circle cx="263.4" cy="989.1" r="2" fill="rgba(200,16,46,0.7)"/>
<circle cx="257.1" cy="997.5" r="2" fill="rgba(200,16,46,0.7)"/>
<circle cx="265.1" cy="998.2" r="2" fill="rgba(200,16,46,0.7)"/>
<circle cx="258.8" cy="1000.8" r="2" fill="rgba(200,16,46,0.7)"/>
<circle cx="261.9" cy="1001.4" r="2" fill="rgba(200,16,46,0.7)"/>
<circle cx="255.9" cy="1003.2" r="2" fill="rgba(200,16,46,0.7)"/>
<circle cx="265.3" cy="1005" r="2" fill="rgba(200,16,46,0.7)"/>
<circle cx="259.5" cy="1005.9" r="2" fill="rgba(200,16,46,0.7)"/>
<circle cx="262.7" cy="1010.5" r="2" fill="rgba(200,16,46,0.7)"/>
<circle cx="258.3" cy="1028.1" r="2" fill="rgba(200,16,46,0.7)"/>
<circle cx="258.8" cy="1035.6" r="2" fill="rgba(200,16,46,0.7)"/>
<circle cx="263.4" cy="1034.1" r="2" fill="rgba(200,16,46,0.7)"/>
<circle cx="255.7" cy="1044.1" r="2" fill="rgba(200,16,46,0.7)"/>
<circle cx="266.5" cy="1044.3" r="2" fill="rgba(200,16,46,0.7)"/>
<circle cx="260.9" cy="1048.5" r="2" fill="rgba(200,16,46,0.7)"/>
<circle cx="263.7" cy="1050.3" r="2" fill="rgba(200,16,46,0.7)"/>
<circle cx="258" cy="1054" r="2" fill="rgba(200,16,46,0.7)"/>
<circle cx="265.1" cy="1057.9" r="2" fill="rgba(200,16,46,0.7)"/>
<circle cx="259.8" cy="1059.5" r="2" fill="rgba(200,16,46,0.7)"/>
<circle cx="256.9" cy="1065.5" r="2" fill="rgba(200,16,46,0.7)"/>
<circle cx="262.7" cy="1063.7" r="2" fill="rgba(200,16,46,0.7)"/>
<circle cx="259.8" cy="1079.4" r="2" fill="rgba(200,16,46,0.7)"/>
<circle cx="255.9" cy="1081.5" r="2" fill="rgba(200,16,46,0.7)"/>
<circle cx="264" cy="1081.3" r="2" fill="rgba(200,16,46,0.7)"/>
<circle cx="267.4" cy="1078.8" r="2" fill="rgba(200,16,46,0.7)"/>
<circle cx="257.1" cy="1087.2" r="2" fill="rgba(200,16,46,0.7)"/>
<circle cx="262.7" cy="1088" r="2" fill="rgba(200,16,46,0.7)"/>
<circle cx="266.9" cy="1086.5" r="2" fill="rgba(200,16,46,0.7)"/>
<circle cx="251.5" cy="1089.3" r="2" fill="rgba(200,16,46,0.7)"/>
<circle cx="271.6" cy="1091.4" r="2" fill="rgba(200,16,46,0.7)"/>
<circle cx="253.6" cy="1096.4" r="2" fill="rgba(200,16,46,0.7)"/>
<circle cx="260" cy="1094.6" r="2" fill="rgba(200,16,46,0.7)"/>
<circle cx="266.3" cy="1096.1" r="2" fill="rgba(200,16,46,0.7)"/>
<circle cx="269.5" cy="1097.7" r="2" fill="rgba(200,16,46,0.7)"/>
<circle cx="256.7" cy="1099.3" r="2" fill="rgba(200,16,46,0.7)"/>
<circle cx="260.9" cy="1101.35" r="2" fill="rgba(200,16,46,0.7)"/>
<circle cx="254.4" cy="1101.91" r="2" fill="rgba(200,16,46,0.7)"/>
<circle cx="267.4" cy="1102.9" r="2" fill="rgba(200,16,46,0.7)"/>
<circle cx="251.15" cy="1103.6" r="2" fill="rgba(200,16,46,0.7)"/>
<circle cx="264.15" cy="1104.34" r="2" fill="rgba(200,16,46,0.7)"/>
<circle cx="257.65" cy="1105.05" r="2" fill="rgba(200,16,46,0.7)"/>
<circle cx="270.65" cy="1105.74" r="2" fill="rgba(200,16,46,0.7)"/>
<circle cx="249.52" cy="1106.68" r="2" fill="rgba(200,16,46,0.7)"/>
<circle cx="262.77" cy="1111.11" r="2" fill="rgba(200,16,46,0.7)"/>
<circle cx="255.27" cy="1111.92" r="2" fill="rgba(200,16,46,0.7)"/>
<circle cx="270.27" cy="1112.91" r="2" fill="rgba(200,16,46,0.7)"/>
<circle cx="251.52" cy="1113.68" r="2" fill="rgba(200,16,46,0.7)"/>
<circle cx="266.52" cy="1114.31" r="2" fill="rgba(200,16,46,0.7)"/>
<circle cx="259.02" cy="1115.32" r="2" fill="rgba(200,16,46,0.7)"/>
<circle cx="274.02" cy="1115.97" r="2" fill="rgba(200,16,46,0.7)"/>
<circle cx="246.84" cy="1117.09" r="2" fill="rgba(200,16,46,0.7)"/>
<circle cx="261.84" cy="1117.94" r="2" fill="rgba(200,16,46,0.7)"/>
<circle cx="254.34" cy="1118.59" r="2" fill="rgba(200,16,46,0.7)"/>
<circle cx="269.34" cy="1122.17" r="2" fill="rgba(200,16,46,0.7)"/>
<circle cx="250.59" cy="1122.6" r="2" fill="rgba(200,16,46,0.7)"/>
<circle cx="265.59" cy="1123.6" r="2" fill="rgba(200,16,46,0.7)"/>
<circle cx="258.09" cy="1124.19" r="2" fill="rgba(200,16,46,0.7)"/>
<circle cx="273.09" cy="1125.17" r="2" fill="rgba(200,16,46,0.7)"/>
<circle cx="248.71" cy="1125.81" r="2" fill="rgba(200,16,46,0.7)"/>
<circle cx="263.71" cy="1126.62" r="2" fill="rgba(200,16,46,0.7)"/>
<circle cx="256.21" cy="1127.65" r="2" fill="rgba(200,16,46,0.7)"/>
<circle cx="271.21" cy="1128.27" r="2" fill="rgba(200,16,46,0.7)"/>
<circle cx="252.46" cy="1129.01" r="2" fill="rgba(200,16,46,0.7)"/>
<circle cx="267.02" cy="1129.94" r="2" fill="rgba(200,16,46,0.7)"/>
<circle cx="260.02" cy="1131.05" r="2" fill="rgba(200,16,46,0.7)"/>
<circle cx="274.02" cy="1132.14" r="2" fill="rgba(200,16,46,0.7)"/>
<circle cx="247.34" cy="1133" r="2" fill="rgba(200,16,46,0.7)"/>
<circle cx="261.31" cy="1138.14" r="2" fill="rgba(200,16,46,0.7)"/>
<circle cx="254.81" cy="1138.83" r="2" fill="rgba(200,16,46,0.7)"/>
<circle cx="267.81" cy="1139.59" r="2" fill="rgba(200,16,46,0.7)"/>
<circle cx="251.56" cy="1140.29" r="2" fill="rgba(200,16,46,0.7)"/>
<circle cx="264.56" cy="1141.23" r="2" fill="rgba(200,16,46,0.7)"/>
<circle cx="258.06" cy="1141.89" r="2" fill="rgba(200,16,46,0.7)"/>
<circle cx="271.06" cy="1142.46" r="2" fill="rgba(200,16,46,0.7)"/>
<circle cx="249.93" cy="1143.46" r="2" fill="rgba(200,16,46,0.7)"/>
<circle cx="262.93" cy="1144.33" r="2" fill="rgba(200,16,46,0.7)"/>
<circle cx="256.09" cy="1148.79" r="2" fill="rgba(200,16,46,0.7)"/>
<circle cx="270.09" cy="1149.49" r="2" fill="rgba(200,16,46,0.7)"/>
<circle cx="252.59" cy="1149.87" r="2" fill="rgba(200,16,46,0.7)"/>
<circle cx="266.59" cy="1150.52" r="2" fill="rgba(200,16,46,0.7)"/>
<circle cx="259.59" cy="1151.05" r="2" fill="rgba(200,16,46,0.7)"/>
<circle cx="273.59" cy="1151.62" r="2" fill="rgba(200,16,46,0.7)"/>
<circle cx="248.21" cy="1152.31" r="2" fill="rgba(200,16,46,0.7)"/>
<circle cx="261.46" cy="1157.3" r="2" fill="rgba(200,16,46,0.7)"/>
<circle cx="255.21" cy="1161.02" r="2" fill="rgba(200,16,46,0.7)"/>
<circle cx="269.21" cy="1162.04" r="2" fill="rgba(200,16,46,0.7)"/>
<circle cx="251.71" cy="1162.65" r="2" fill="rgba(200,16,46,0.7)"/>
<circle cx="265.71" cy="1163.23" r="2" fill="rgba(200,16,46,0.7)"/>
<circle cx="258.71" cy="1164.18" r="2" fill="rgba(200,16,46,0.7)"/>
<circle cx="272.71" cy="1165.23" r="2" fill="rgba(200,16,46,0.7)"/>
<circle cx="249.96" cy="1165.82" r="2" fill="rgba(200,16,46,0.7)"/>
<circle cx="263.96" cy="1166.45" r="2" fill="rgba(200,16,46,0.7)"/>
<circle cx="256.96" cy="1167.36" r="2" fill="rgba(200,16,46,0.7)"/>
<circle cx="270.96" cy="1168.08" r="2" fill="rgba(200,16,46,0.7)"/>
<circle cx="255.06" cy="1173.2" r="2" fill="rgba(200,16,46,0.7)"/>
<circle cx="266.06" cy="1173.69" r="2" fill="rgba(200,16,46,0.7)"/>
<circle cx="260.56" cy="1174.14" r="2" fill="rgba(200,16,46,0.7)"/>
<circle cx="271.56" cy="1174.58" r="2" fill="rgba(200,16,46,0.7)"/>
<circle cx="250.07" cy="1175.13" r="2" fill="rgba(200,16,46,0.7)"/>
<circle cx="261.07" cy="1175.45" r="2" fill="rgba(200,16,46,0.7)"/>
<circle cx="255.57" cy="1175.99" r="2" fill="rgba(200,16,46,0.7)"/>
<circle cx="266.57" cy="1176.56" r="2" fill="rgba(200,16,46,0.7)"/>
<circle cx="252.09" cy="1180.34" r="2" fill="rgba(200,16,46,0.7)"/>
<circle cx="264.09" cy="1181.02" r="2" fill="rgba(200,16,46,0.7)"/>
<circle cx="258.09" cy="1182.32" r="2" fill="rgba(200,16,46,0.7)"/>
<circle cx="270.09" cy="1182.89" r="2" fill="rgba(200,16,46,0.7)"/>
<circle cx="250.59" cy="1183.75" r="2" fill="rgba(200,16,46,0.7)"/>
<circle cx="262.59" cy="1184.5" r="2" fill="rgba(200,16,46,0.7)"/>
<circle cx="256.95" cy="1188.2" r="2" fill="rgba(200,16,46,0.7)"/>
<circle cx="267.95" cy="1190" r="2" fill="rgba(200,16,46,0.7)"/>
<circle cx="254.2" cy="1192.12" r="2" fill="rgba(200,16,46,0.7)"/>
<circle cx="265.2" cy="1193.7" r="2" fill="rgba(200,16,46,0.7)"/>
<circle cx="259.7" cy="1195.02" r="2" fill="rgba(200,16,46,0.7)"/>
<circle cx="270.7" cy="1196.32" r="2" fill="rgba(200,16,46,0.7)"/>
<circle cx="250.76" cy="1198.79" r="2" fill="rgba(200,16,46,0.7)"/>
<circle cx="261.76" cy="1199.93" r="2" fill="rgba(200,16,46,0.7)"/>
<circle cx="257.1" cy="1208.26" r="2" fill="rgba(200,16,46,0.7)"/>
<circle cx="266.1" cy="1208.82" r="2" fill="rgba(200,16,46,0.7)"/>
<circle cx="254.85" cy="1209.98" r="2" fill="rgba(200,16,46,0.7)"/>
<circle cx="263.85" cy="1210.67" r="2" fill="rgba(200,16,46,0.7)"/>
<circle cx="259.35" cy="1211.57" r="2" fill="rgba(200,16,46,0.7)"/>
<circle cx="268.35" cy="1212.36" r="2" fill="rgba(200,16,46,0.7)"/>
<circle cx="253.73" cy="1213.17" r="2" fill="rgba(200,16,46,0.7)"/>
<circle cx="262.73" cy="1214.11" r="2" fill="rgba(200,16,46,0.7)"/>
<circle cx="258.23" cy="1223.83" r="2" fill="rgba(200,16,46,0.7)"/>
<circle cx="267.23" cy="1224.59" r="2" fill="rgba(200,16,46,0.7)"/>
<circle cx="255.98" cy="1226.34" r="2" fill="rgba(200,16,46,0.7)"/>
<circle cx="264.98" cy="1227.65" r="2" fill="rgba(200,16,46,0.7)"/>
<circle cx="260.48" cy="1229.87" r="2" fill="rgba(200,16,46,0.7)"/>
<circle cx="269.48" cy="1231.36" r="2" fill="rgba(200,16,46,0.7)"/>
<circle cx="254.23" cy="1240.32" r="2" fill="rgba(200,16,46,0.7)"/>
<circle cx="261.23" cy="1241.39" r="2" fill="rgba(200,16,46,0.7)"/>
<circle cx="257.73" cy="1242.48" r="2" fill="rgba(200,16,46,0.7)"/>
<circle cx="264.73" cy="1243.45" r="2" fill="rgba(200,16,46,0.7)"/>
<circle cx="255.98" cy="1244.13" r="2" fill="rgba(200,16,46,0.7)"/>
<circle cx="262.09" cy="1252.84" r="2" fill="rgba(200,16,46,0.7)"/>
<circle cx="260.09" cy="1253.92" r="2" fill="rgba(200,16,46,0.7)"/>
<circle cx="261.3" cy="1266.56" r="2" fill="rgba(200,16,46,0.7)"/>
<circle cx="260.49" cy="1269.44" r="2" fill="rgba(200,16,46,0.7)"/>
<circle cx="442" cy="953.7" r="2" fill="rgba(0,154,0,0.7)"/>
<circle cx="442" cy="977.5" r="2" fill="rgba(0,154,0,0.7)"/>
<circle cx="442" cy="986.4" r="2" fill="rgba(0,154,0,0.7)"/>
<circle cx="440.5" cy="1027.2" r="2" fill="rgba(0,154,0,0.7)"/>
<circle cx="442.38" cy="1032.17" r="2" fill="rgba(0,154,0,0.7)"/>
<circle cx="441.62" cy="1033.33" r="2" fill="rgba(0,154,0,0.7)"/>
<circle cx="443.12" cy="1034.13" r="2" fill="rgba(0,154,0,0.7)"/>
<circle cx="439.38" cy="1038.92" r="2" fill="rgba(0,154,0,0.7)"/>
<circle cx="442.38" cy="1039.7" r="2" fill="rgba(0,154,0,0.7)"/>
<circle cx="440.88" cy="1040.33" r="2" fill="rgba(0,154,0,0.7)"/>
<circle cx="444.5" cy="1044.51" r="2" fill="rgba(0,154,0,0.7)"/>
<circle cx="439.5" cy="1045.33" r="2" fill="rgba(0,154,0,0.7)"/>
<circle cx="443.5" cy="1046.04" r="2" fill="rgba(0,154,0,0.7)"/>
<circle cx="441.5" cy="1047" r="2" fill="rgba(0,154,0,0.7)"/>
<circle cx="445.5" cy="1047.59" r="2" fill="rgba(0,154,0,0.7)"/>
<circle cx="441.06" cy="1052" r="2" fill="rgba(0,154,0,0.7)"/>
<circle cx="442.19" cy="1059.14" r="2" fill="rgba(0,154,0,0.7)"/>
<circle cx="440.69" cy="1059.48" r="2" fill="rgba(0,154,0,0.7)"/>
<circle cx="443.69" cy="1059.71" r="2" fill="rgba(0,154,0,0.7)"/>
<circle cx="439.94" cy="1060.08" r="2" fill="rgba(0,154,0,0.7)"/>
<circle cx="442.94" cy="1066.6" r="2" fill="rgba(0,154,0,0.7)"/>
<circle cx="441.44" cy="1070.24" r="2" fill="rgba(0,154,0,0.7)"/>
<circle cx="444.44" cy="1070.77" r="2" fill="rgba(0,154,0,0.7)"/>
<circle cx="439.56" cy="1071.83" r="2" fill="rgba(0,154,0,0.7)"/>
<circle cx="442.56" cy="1072.48" r="2" fill="rgba(0,154,0,0.7)"/>
<circle cx="441.06" cy="1077.59" r="2" fill="rgba(0,154,0,0.7)"/>
<circle cx="444.06" cy="1077.99" r="2" fill="rgba(0,154,0,0.7)"/>
<circle cx="440.31" cy="1078.53" r="2" fill="rgba(0,154,0,0.7)"/>
<circle cx="443.97" cy="1083.46" r="2" fill="rgba(0,154,0,0.7)"/>
<circle cx="441.72" cy="1084.29" r="2" fill="rgba(0,154,0,0.7)"/>
<circle cx="446.22" cy="1085.53" r="2" fill="rgba(0,154,0,0.7)"/>
<circle cx="437.64" cy="1086.67" r="2" fill="rgba(0,154,0,0.7)"/>
<circle cx="442.14" cy="1087.38" r="2" fill="rgba(0,154,0,0.7)"/>
<circle cx="439.89" cy="1088.33" r="2" fill="rgba(0,154,0,0.7)"/>
<circle cx="446.25" cy="1095.31" r="2" fill="rgba(0,154,0,0.7)"/>
<circle cx="436.25" cy="1096.26" r="2" fill="rgba(0,154,0,0.7)"/>
<circle cx="444.25" cy="1096.99" r="2" fill="rgba(0,154,0,0.7)"/>
<circle cx="440.25" cy="1097.57" r="2" fill="rgba(0,154,0,0.7)"/>
<circle cx="448.25" cy="1098.39" r="2" fill="rgba(0,154,0,0.7)"/>
<circle cx="435.25" cy="1099.08" r="2" fill="rgba(0,154,0,0.7)"/>
<circle cx="443.25" cy="1099.59" r="2" fill="rgba(0,154,0,0.7)"/>
<circle cx="439.25" cy="1100.18" r="2" fill="rgba(0,154,0,0.7)"/>
<circle cx="447.25" cy="1101.14" r="2" fill="rgba(0,154,0,0.7)"/>
<circle cx="437.25" cy="1101.81" r="2" fill="rgba(0,154,0,0.7)"/>
<circle cx="445.25" cy="1102.44" r="2" fill="rgba(0,154,0,0.7)"/>
<circle cx="441.25" cy="1103.1" r="2" fill="rgba(0,154,0,0.7)"/>
<circle cx="449.25" cy="1103.89" r="2" fill="rgba(0,154,0,0.7)"/>
<circle cx="434.75" cy="1104.63" r="2" fill="rgba(0,154,0,0.7)"/>
<circle cx="442.66" cy="1105.24" r="2" fill="rgba(0,154,0,0.7)"/>
<circle cx="439.16" cy="1105.92" r="2" fill="rgba(0,154,0,0.7)"/>
<circle cx="446.16" cy="1106.65" r="2" fill="rgba(0,154,0,0.7)"/>
<circle cx="437.41" cy="1107.48" r="2" fill="rgba(0,154,0,0.7)"/>
<circle cx="444.41" cy="1108.03" r="2" fill="rgba(0,154,0,0.7)"/>
<circle cx="440.91" cy="1108.58" r="2" fill="rgba(0,154,0,0.7)"/>
<circle cx="449.17" cy="1112.86" r="2" fill="rgba(0,154,0,0.7)"/>
<circle cx="435.36" cy="1113.63" r="2" fill="rgba(0,154,0,0.7)"/>
<circle cx="443.86" cy="1114.23" r="2" fill="rgba(0,154,0,0.7)"/>
<circle cx="439.61" cy="1114.92" r="2" fill="rgba(0,154,0,0.7)"/>
<circle cx="448.11" cy="1115.76" r="2" fill="rgba(0,154,0,0.7)"/>
<circle cx="437.48" cy="1116.28" r="2" fill="rgba(0,154,0,0.7)"/>
<circle cx="445.98" cy="1117.14" r="2" fill="rgba(0,154,0,0.7)"/>
<circle cx="441.73" cy="1117.79" r="2" fill="rgba(0,154,0,0.7)"/>
<circle cx="450.23" cy="1118.64" r="2" fill="rgba(0,154,0,0.7)"/>
<circle cx="433.63" cy="1119.35" r="2" fill="rgba(0,154,0,0.7)"/>
<circle cx="442.13" cy="1120.03" r="2" fill="rgba(0,154,0,0.7)"/>
<circle cx="437.88" cy="1120.73" r="2" fill="rgba(0,154,0,0.7)"/>
<circle cx="446.38" cy="1121.3" r="2" fill="rgba(0,154,0,0.7)"/>
<circle cx="435.76" cy="1122.12" r="2" fill="rgba(0,154,0,0.7)"/>
<circle cx="444.26" cy="1122.68" r="2" fill="rgba(0,154,0,0.7)"/>
<circle cx="440.01" cy="1123.48" r="2" fill="rgba(0,154,0,0.7)"/>
<circle cx="448.51" cy="1124.08" r="2" fill="rgba(0,154,0,0.7)"/>
<circle cx="434.7" cy="1124.83" r="2" fill="rgba(0,154,0,0.7)"/>
<circle cx="443.2" cy="1125.37" r="2" fill="rgba(0,154,0,0.7)"/>
<circle cx="438.95" cy="1126.14" r="2" fill="rgba(0,154,0,0.7)"/>
<circle cx="445.84" cy="1131.87" r="2" fill="rgba(0,154,0,0.7)"/>
<circle cx="438.34" cy="1131.99" r="2" fill="rgba(0,154,0,0.7)"/>
<circle cx="444.34" cy="1132.27" r="2" fill="rgba(0,154,0,0.7)"/>
<circle cx="441.34" cy="1132.48" r="2" fill="rgba(0,154,0,0.7)"/>
<circle cx="447.34" cy="1132.7" r="2" fill="rgba(0,154,0,0.7)"/>
<circle cx="436.47" cy="1132.89" r="2" fill="rgba(0,154,0,0.7)"/>
<circle cx="442.59" cy="1137.2" r="2" fill="rgba(0,154,0,0.7)"/>
<circle cx="438.84" cy="1137.69" r="2" fill="rgba(0,154,0,0.7)"/>
<circle cx="446.34" cy="1138.41" r="2" fill="rgba(0,154,0,0.7)"/>
<circle cx="436.96" cy="1139.19" r="2" fill="rgba(0,154,0,0.7)"/>
<circle cx="444.46" cy="1139.88" r="2" fill="rgba(0,154,0,0.7)"/>
<circle cx="440.71" cy="1140.58" r="2" fill="rgba(0,154,0,0.7)"/>
<circle cx="448.21" cy="1141.31" r="2" fill="rgba(0,154,0,0.7)"/>
<circle cx="436.02" cy="1142.21" r="2" fill="rgba(0,154,0,0.7)"/>
<circle cx="443.52" cy="1142.77" r="2" fill="rgba(0,154,0,0.7)"/>
<circle cx="439.77" cy="1143.82" r="2" fill="rgba(0,154,0,0.7)"/>
<circle cx="447.27" cy="1144.43" r="2" fill="rgba(0,154,0,0.7)"/>
<circle cx="437.9" cy="1145.08" r="2" fill="rgba(0,154,0,0.7)"/>
<circle cx="445.4" cy="1145.87" r="2" fill="rgba(0,154,0,0.7)"/>
<circle cx="441.65" cy="1146.4" r="2" fill="rgba(0,154,0,0.7)"/>
<circle cx="449.15" cy="1147.41" r="2" fill="rgba(0,154,0,0.7)"/>
<circle cx="434.85" cy="1148.09" r="2" fill="rgba(0,154,0,0.7)"/>
<circle cx="442.23" cy="1153.88" r="2" fill="rgba(0,154,0,0.7)"/>
<circle cx="439.73" cy="1154.53" r="2" fill="rgba(0,154,0,0.7)"/>
<circle cx="444.73" cy="1155.46" r="2" fill="rgba(0,154,0,0.7)"/>
<circle cx="438.48" cy="1156.17" r="2" fill="rgba(0,154,0,0.7)"/>
<circle cx="443.48" cy="1156.89" r="2" fill="rgba(0,154,0,0.7)"/>
<circle cx="440.98" cy="1157.77" r="2" fill="rgba(0,154,0,0.7)"/>
<circle cx="445.98" cy="1158.4" r="2" fill="rgba(0,154,0,0.7)"/>
<circle cx="437.86" cy="1159.04" r="2" fill="rgba(0,154,0,0.7)"/>
<circle cx="442.86" cy="1159.88" r="2" fill="rgba(0,154,0,0.7)"/>
<circle cx="440.36" cy="1160.48" r="2" fill="rgba(0,154,0,0.7)"/>
<circle cx="442.67" cy="1164.2" r="2" fill="rgba(0,154,0,0.7)"/>
<circle cx="440.27" cy="1167.71" r="2" fill="rgba(0,154,0,0.7)"/>
<circle cx="443.27" cy="1169.43" r="2" fill="rgba(0,154,0,0.7)"/>
<circle cx="441.77" cy="1170.77" r="2" fill="rgba(0,154,0,0.7)"/>
<circle cx="444.77" cy="1176.19" r="2" fill="rgba(0,154,0,0.7)"/>
<circle cx="439.33" cy="1177.6" r="2" fill="rgba(0,154,0,0.7)"/>
<circle cx="442.33" cy="1178.84" r="2" fill="rgba(0,154,0,0.7)"/>
<circle cx="440.83" cy="1179.95" r="2" fill="rgba(0,154,0,0.7)"/>
<circle cx="443.83" cy="1181.83" r="2" fill="rgba(0,154,0,0.7)"/>
<circle cx="439.44" cy="1188.54" r="2" fill="rgba(0,154,0,0.7)"/>
<circle cx="443.44" cy="1189.56" r="2" fill="rgba(0,154,0,0.7)"/>
<circle cx="441.44" cy="1190.47" r="2" fill="rgba(0,154,0,0.7)"/>
<circle cx="445.44" cy="1191.56" r="2" fill="rgba(0,154,0,0.7)"/>
<circle cx="438.94" cy="1192.52" r="2" fill="rgba(0,154,0,0.7)"/>
<circle cx="442.94" cy="1193.6" r="2" fill="rgba(0,154,0,0.7)"/>
<circle cx="440.94" cy="1194.65" r="2" fill="rgba(0,154,0,0.7)"/>
<circle cx="444.94" cy="1196.31" r="2" fill="rgba(0,154,0,0.7)"/>
<circle cx="439.16" cy="1199.68" r="2" fill="rgba(0,154,0,0.7)"/>
<circle cx="444.66" cy="1200.5" r="2" fill="rgba(0,154,0,0.7)"/>
<circle cx="441.91" cy="1201.86" r="2" fill="rgba(0,154,0,0.7)"/>
<circle cx="447.41" cy="1202.77" r="2" fill="rgba(0,154,0,0.7)"/>
<circle cx="436.54" cy="1204.05" r="2" fill="rgba(0,154,0,0.7)"/>
<circle cx="442.04" cy="1205.58" r="2" fill="rgba(0,154,0,0.7)"/>
<circle cx="439.29" cy="1206.69" r="2" fill="rgba(0,154,0,0.7)"/>
<circle cx="444.79" cy="1207.74" r="2" fill="rgba(0,154,0,0.7)"/>
<circle cx="437.92" cy="1208.76" r="2" fill="rgba(0,154,0,0.7)"/>
<circle cx="443.42" cy="1210.19" r="2" fill="rgba(0,154,0,0.7)"/>
<circle cx="440.67" cy="1211.57" r="2" fill="rgba(0,154,0,0.7)"/>
<circle cx="446.17" cy="1212.37" r="2" fill="rgba(0,154,0,0.7)"/>
<circle cx="439.4" cy="1217.38" r="2" fill="rgba(0,154,0,0.7)"/>
<circle cx="442.4" cy="1218.94" r="2" fill="rgba(0,154,0,0.7)"/>
<circle cx="440.9" cy="1220.54" r="2" fill="rgba(0,154,0,0.7)"/>
<circle cx="443.9" cy="1222.95" r="2" fill="rgba(0,154,0,0.7)"/>
<circle cx="440.15" cy="1230.2" r="2" fill="rgba(0,154,0,0.7)"/>
<circle cx="443.15" cy="1231.32" r="2" fill="rgba(0,154,0,0.7)"/>
<circle cx="441.65" cy="1231.89" r="2" fill="rgba(0,154,0,0.7)"/>
<circle cx="444.65" cy="1232.89" r="2" fill="rgba(0,154,0,0.7)"/>
<circle cx="440.14" cy="1238.13" r="2" fill="rgba(0,154,0,0.7)"/>
<circle cx="442.14" cy="1239.65" r="2" fill="rgba(0,154,0,0.7)"/>
<circle cx="441.14" cy="1245.6" r="2" fill="rgba(0,154,0,0.7)"/>
<circle cx="442.57" cy="1257.7" r="2" fill="rgba(0,154,0,0.7)"/>
<circle cx="442" cy="1269.33" r="2" fill="rgba(0,154,0,0.7)"/>
<circle cx="433.25" cy="1269.72" r="2" fill="rgba(0,154,0,0.7)"/>
<circle cx="450.75" cy="1269.32" r="2" fill="rgba(0,154,0,0.7)"/>
<circle cx="428.88" cy="1269.75" r="2" fill="rgba(0,154,0,0.7)"/>
<circle cx="446.38" cy="1269.49" r="2" fill="rgba(0,154,0,0.7)"/>
<circle cx="437.62" cy="1269.57" r="2" fill="rgba(0,154,0,0.7)"/>
<circle cx="455.12" cy="1269.66" r="2" fill="rgba(0,154,0,0.7)"/>
<circle cx="426.69" cy="1269.51" r="2" fill="rgba(0,154,0,0.7)"/>
<circle cx="444.19" cy="1269.38" r="2" fill="rgba(0,154,0,0.7)"/>
<circle cx="435.44" cy="1269.31" r="2" fill="rgba(0,154,0,0.7)"/>
<circle cx="452.94" cy="1269.25" r="2" fill="rgba(0,154,0,0.7)"/>
<circle cx="431.06" cy="1269.64" r="2" fill="rgba(0,154,0,0.7)"/>
<circle cx="448.56" cy="1269.46" r="2" fill="rgba(0,154,0,0.7)"/>
<circle cx="439.81" cy="1269.29" r="2" fill="rgba(0,154,0,0.7)"/>
<circle cx="457.31" cy="1269.73" r="2" fill="rgba(0,154,0,0.7)"/>
<circle cx="425.59" cy="1269.36" r="2" fill="rgba(0,154,0,0.7)"/>
<circle cx="443.09" cy="1269.45" r="2" fill="rgba(0,154,0,0.7)"/>
<circle cx="434.34" cy="1269.38" r="2" fill="rgba(0,154,0,0.7)"/>
<circle cx="451.84" cy="1269.58" r="2" fill="rgba(0,154,0,0.7)"/>
<circle cx="429.97" cy="1269.55" r="2" fill="rgba(0,154,0,0.7)"/>
<circle cx="447.47" cy="1269.56" r="2" fill="rgba(0,154,0,0.7)"/>
<circle cx="438.72" cy="1269.36" r="2" fill="rgba(0,154,0,0.7)"/>
<circle cx="456.22" cy="1269.37" r="2" fill="rgba(0,154,0,0.7)"/>
<circle cx="427.78" cy="1269.35" r="2" fill="rgba(0,154,0,0.7)"/>
<circle cx="445.28" cy="1269.4" r="2" fill="rgba(0,154,0,0.7)"/>
<circle cx="436.53" cy="1269.29" r="2" fill="rgba(0,154,0,0.7)"/>
<circle cx="454.03" cy="1269.3" r="2" fill="rgba(0,154,0,0.7)"/>
<circle cx="432.16" cy="1269.78" r="2" fill="rgba(0,154,0,0.7)"/>
<circle cx="449.66" cy="1269.78" r="2" fill="rgba(0,154,0,0.7)"/>
<circle cx="440.91" cy="1269.31" r="2" fill="rgba(0,154,0,0.7)"/>
<circle cx="458.41" cy="1269.21" r="2" fill="rgba(0,154,0,0.7)"/>
<circle cx="425.05" cy="1269.32" r="2" fill="rgba(0,154,0,0.7)"/>
<circle cx="442.55" cy="1269.62" r="2" fill="rgba(0,154,0,0.7)"/>
<circle cx="433.8" cy="1269.67" r="2" fill="rgba(0,154,0,0.7)"/>
<circle cx="451.3" cy="1269.21" r="2" fill="rgba(0,154,0,0.7)"/>
<circle cx="429.42" cy="1269.55" r="2" fill="rgba(0,154,0,0.7)"/>
<circle cx="446.92" cy="1269.2" r="2" fill="rgba(0,154,0,0.7)"/>
<circle cx="438.17" cy="1269.51" r="2" fill="rgba(0,154,0,0.7)"/>
<circle cx="455.67" cy="1269.58" r="2" fill="rgba(0,154,0,0.7)"/>
<circle cx="427.23" cy="1269.79" r="2" fill="rgba(0,154,0,0.7)"/>
<circle cx="444.73" cy="1269.36" r="2" fill="rgba(0,154,0,0.7)"/>
<circle cx="435.98" cy="1269.68" r="2" fill="rgba(0,154,0,0.7)"/>
<circle cx="453.48" cy="1269.72" r="2" fill="rgba(0,154,0,0.7)"/>
<circle cx="431.61" cy="1269.75" r="2" fill="rgba(0,154,0,0.7)"/>
<circle cx="449.11" cy="1269.2" r="2" fill="rgba(0,154,0,0.7)"/>
<circle cx="440.36" cy="1269.48" r="2" fill="rgba(0,154,0,0.7)"/>
<circle cx="457.86" cy="1269.79" r="2" fill="rgba(0,154,0,0.7)"/>
<circle cx="426.14" cy="1269.44" r="2" fill="rgba(0,154,0,0.7)"/>
<circle cx="443.64" cy="1269.69" r="2" fill="rgba(0,154,0,0.7)"/>
<circle cx="434.89" cy="1269.53" r="2" fill="rgba(0,154,0,0.7)"/>
<circle cx="452.39" cy="1269.66" r="2" fill="rgba(0,154,0,0.7)"/>
<circle cx="430.52" cy="1269.49" r="2" fill="rgba(0,154,0,0.7)"/>
<circle cx="448.02" cy="1269.22" r="2" fill="rgba(0,154,0,0.7)"/>
<circle cx="439.27" cy="1269.25" r="2" fill="rgba(0,154,0,0.7)"/>
<circle cx="456.77" cy="1269.27" r="2" fill="rgba(0,154,0,0.7)"/>
<circle cx="428.33" cy="1269.35" r="2" fill="rgba(0,154,0,0.7)"/>
<circle cx="445.83" cy="1269.78" r="2" fill="rgba(0,154,0,0.7)"/>
<circle cx="437.08" cy="1269.58" r="2" fill="rgba(0,154,0,0.7)"/>
<circle cx="454.58" cy="1269.69" r="2" fill="rgba(0,154,0,0.7)"/>
<circle cx="432.7" cy="1269.54" r="2" fill="rgba(0,154,0,0.7)"/>
<circle cx="450.2" cy="1269.58" r="2" fill="rgba(0,154,0,0.7)"/>
<circle cx="441.45" cy="1269.69" r="2" fill="rgba(0,154,0,0.7)"/>
<circle cx="458.95" cy="1269.76" r="2" fill="rgba(0,154,0,0.7)"/>
<circle cx="424.77" cy="1269.75" r="2" fill="rgba(0,154,0,0.7)"/>
<circle cx="442.27" cy="1269.69" r="2" fill="rgba(0,154,0,0.7)"/>
<circle cx="433.52" cy="1269.26" r="2" fill="rgba(0,154,0,0.7)"/>
<circle cx="451.02" cy="1269.42" r="2" fill="rgba(0,154,0,0.7)"/>
<circle cx="429.15" cy="1269.22" r="2" fill="rgba(0,154,0,0.7)"/>
<circle cx="446.65" cy="1269.53" r="2" fill="rgba(0,154,0,0.7)"/>
<circle cx="437.9" cy="1269.68" r="2" fill="rgba(0,154,0,0.7)"/>
<rect x="423.7" y="1267.4" width="35.8" height="4.3" rx="2.15" fill="#009a00"/>
<circle cx="528.2" cy="957.2" r="2" fill="rgba(200,16,46,0.7)"/>
<circle cx="528.2" cy="1011.9" r="2" fill="rgba(200,16,46,0.7)"/>
<circle cx="528.7" cy="1029.7" r="2" fill="rgba(200,16,46,0.7)"/>
<circle cx="527.45" cy="1029.7" r="2" fill="rgba(200,16,46,0.7)"/>
<circle cx="528.7" cy="1044.82" r="2" fill="rgba(200,16,46,0.7)"/>
<circle cx="527.7" cy="1046.02" r="2" fill="rgba(200,16,46,0.7)"/>
<circle cx="529.7" cy="1047.43" r="2" fill="rgba(200,16,46,0.7)"/>
<circle cx="526.45" cy="1048.44" r="2" fill="rgba(200,16,46,0.7)"/>
<circle cx="528.45" cy="1056.92" r="2" fill="rgba(200,16,46,0.7)"/>
<circle cx="527.45" cy="1057.94" r="2" fill="rgba(200,16,46,0.7)"/>
<circle cx="529.45" cy="1060.74" r="2" fill="rgba(200,16,46,0.7)"/>
<circle cx="526.95" cy="1063.44" r="2" fill="rgba(200,16,46,0.7)"/>
<circle cx="528.95" cy="1066.39" r="2" fill="rgba(200,16,46,0.7)"/>
<circle cx="527.95" cy="1076.62" r="2" fill="rgba(200,16,46,0.7)"/>
<circle cx="529.95" cy="1079.35" r="2" fill="rgba(200,16,46,0.7)"/>
<circle cx="526.33" cy="1081.44" r="2" fill="rgba(200,16,46,0.7)"/>
<circle cx="528.33" cy="1082.43" r="2" fill="rgba(200,16,46,0.7)"/>
<circle cx="527.33" cy="1088.55" r="2" fill="rgba(200,16,46,0.7)"/>
<circle cx="529.33" cy="1088.96" r="2" fill="rgba(200,16,46,0.7)"/>
<circle cx="526.83" cy="1089.74" r="2" fill="rgba(200,16,46,0.7)"/>
<circle cx="529.14" cy="1095.1" r="2" fill="rgba(200,16,46,0.7)"/>
<circle cx="527.64" cy="1098.55" r="2" fill="rgba(200,16,46,0.7)"/>
<circle cx="530.64" cy="1100.08" r="2" fill="rgba(200,16,46,0.7)"/>
<circle cx="525.76" cy="1102.99" r="2" fill="rgba(200,16,46,0.7)"/>
<circle cx="528.67" cy="1109.66" r="2" fill="rgba(200,16,46,0.7)"/>
<circle cx="527.42" cy="1110.99" r="2" fill="rgba(200,16,46,0.7)"/>
<circle cx="529.92" cy="1111.74" r="2" fill="rgba(200,16,46,0.7)"/>
<circle cx="526.79" cy="1112.94" r="2" fill="rgba(200,16,46,0.7)"/>
<circle cx="529.08" cy="1119.24" r="2" fill="rgba(200,16,46,0.7)"/>
<circle cx="528.08" cy="1119.56" r="2" fill="rgba(200,16,46,0.7)"/>
<circle cx="530.08" cy="1120.14" r="2" fill="rgba(200,16,46,0.7)"/>
<circle cx="526.26" cy="1124.31" r="2" fill="rgba(200,16,46,0.7)"/>
<circle cx="528.26" cy="1125.06" r="2" fill="rgba(200,16,46,0.7)"/>
<circle cx="526.79" cy="1130.4" r="2" fill="rgba(200,16,46,0.7)"/>
<circle cx="529.79" cy="1131.58" r="2" fill="rgba(200,16,46,0.7)"/>
<circle cx="526.04" cy="1132.77" r="2" fill="rgba(200,16,46,0.7)"/>
<circle cx="529.04" cy="1134.39" r="2" fill="rgba(200,16,46,0.7)"/>
<circle cx="527.76" cy="1141.9" r="2" fill="rgba(200,16,46,0.7)"/>
<circle cx="529.76" cy="1141.9" r="2" fill="rgba(200,16,46,0.7)"/>
<circle cx="526.51" cy="1146.08" r="2" fill="rgba(200,16,46,0.7)"/>
<circle cx="528.51" cy="1146.64" r="2" fill="rgba(200,16,46,0.7)"/>
<circle cx="527.51" cy="1154.6" r="2" fill="rgba(200,16,46,0.7)"/>
<circle cx="530.83" cy="1161.75" r="2" fill="rgba(200,16,46,0.7)"/>
<circle cx="525.83" cy="1162.83" r="2" fill="rgba(200,16,46,0.7)"/>
<circle cx="529.83" cy="1164.28" r="2" fill="rgba(200,16,46,0.7)"/>
<circle cx="527.83" cy="1165.67" r="2" fill="rgba(200,16,46,0.7)"/>
<circle cx="531.83" cy="1166.49" r="2" fill="rgba(200,16,46,0.7)"/>
<circle cx="524.58" cy="1167.92" r="2" fill="rgba(200,16,46,0.7)"/>
<circle cx="528.58" cy="1169.29" r="2" fill="rgba(200,16,46,0.7)"/>
<circle cx="526.58" cy="1170.71" r="2" fill="rgba(200,16,46,0.7)"/>
<circle cx="531.17" cy="1175.93" r="2" fill="rgba(200,16,46,0.7)"/>
<circle cx="524.92" cy="1177.06" r="2" fill="rgba(200,16,46,0.7)"/>
<circle cx="529.92" cy="1178.05" r="2" fill="rgba(200,16,46,0.7)"/>
<circle cx="527.42" cy="1179.15" r="2" fill="rgba(200,16,46,0.7)"/>
<circle cx="532.42" cy="1179.8" r="2" fill="rgba(200,16,46,0.7)"/>
<circle cx="524.29" cy="1180.9" r="2" fill="rgba(200,16,46,0.7)"/>
<circle cx="528.86" cy="1189" r="2" fill="rgba(200,16,46,0.7)"/>
<circle cx="527.36" cy="1193.9" r="2" fill="rgba(200,16,46,0.7)"/>
<circle cx="530.36" cy="1195.8" r="2" fill="rgba(200,16,46,0.7)"/>
<circle cx="526.61" cy="1197.1" r="2" fill="rgba(200,16,46,0.7)"/>
<circle cx="529.61" cy="1199.4" r="2" fill="rgba(200,16,46,0.7)"/>
<circle cx="528.11" cy="1200.53" r="2" fill="rgba(200,16,46,0.7)"/>
<circle cx="531.11" cy="1202.52" r="2" fill="rgba(200,16,46,0.7)"/>
<circle cx="525.25" cy="1207.66" r="2" fill="rgba(200,16,46,0.7)"/>
<circle cx="528.25" cy="1210.11" r="2" fill="rgba(200,16,46,0.7)"/>
<circle cx="526.75" cy="1211.44" r="2" fill="rgba(200,16,46,0.7)"/>
<circle cx="529.75" cy="1213.26" r="2" fill="rgba(200,16,46,0.7)"/>
<circle cx="527.47" cy="1218.2" r="2" fill="rgba(200,16,46,0.7)"/>
<circle cx="528.73" cy="1221.4" r="2" fill="rgba(200,16,46,0.7)"/>
<circle cx="527.73" cy="1229.87" r="2" fill="rgba(200,16,46,0.7)"/>
<circle cx="529.73" cy="1231.73" r="2" fill="rgba(200,16,46,0.7)"/>
<circle cx="525.62" cy="1248.1" r="2" fill="rgba(200,16,46,0.7)"/>
<circle cx="528.62" cy="1248.1" r="2" fill="rgba(200,16,46,0.7)"/>
<circle cx="528.2" cy="1269.74" r="2" fill="rgba(200,16,46,0.7)"/>
<circle cx="519.45" cy="1269.4" r="2" fill="rgba(200,16,46,0.7)"/>
<circle cx="536.95" cy="1269.69" r="2" fill="rgba(200,16,46,0.7)"/>
<circle cx="515.08" cy="1269.23" r="2" fill="rgba(200,16,46,0.7)"/>
<circle cx="532.58" cy="1269.26" r="2" fill="rgba(200,16,46,0.7)"/>
<circle cx="523.83" cy="1269.56" r="2" fill="rgba(200,16,46,0.7)"/>
<circle cx="541.33" cy="1269.52" r="2" fill="rgba(200,16,46,0.7)"/>
<circle cx="512.89" cy="1269.45" r="2" fill="rgba(200,16,46,0.7)"/>
<circle cx="530.39" cy="1269.4" r="2" fill="rgba(200,16,46,0.7)"/>
<circle cx="521.64" cy="1269.57" r="2" fill="rgba(200,16,46,0.7)"/>
<circle cx="539.14" cy="1269.46" r="2" fill="rgba(200,16,46,0.7)"/>
<circle cx="517.26" cy="1269.64" r="2" fill="rgba(200,16,46,0.7)"/>
<circle cx="534.76" cy="1269.51" r="2" fill="rgba(200,16,46,0.7)"/>
<circle cx="526.01" cy="1269.55" r="2" fill="rgba(200,16,46,0.7)"/>
<circle cx="543.51" cy="1269.59" r="2" fill="rgba(200,16,46,0.7)"/>
<circle cx="511.79" cy="1269.79" r="2" fill="rgba(200,16,46,0.7)"/>
<circle cx="529.29" cy="1269.69" r="2" fill="rgba(200,16,46,0.7)"/>
<circle cx="520.54" cy="1269.45" r="2" fill="rgba(200,16,46,0.7)"/>
<circle cx="538.04" cy="1269.73" r="2" fill="rgba(200,16,46,0.7)"/>
<circle cx="516.17" cy="1269.69" r="2" fill="rgba(200,16,46,0.7)"/>
<circle cx="533.67" cy="1269.23" r="2" fill="rgba(200,16,46,0.7)"/>
<circle cx="524.92" cy="1269.63" r="2" fill="rgba(200,16,46,0.7)"/>
<circle cx="542.42" cy="1269.68" r="2" fill="rgba(200,16,46,0.7)"/>
<circle cx="513.98" cy="1269.64" r="2" fill="rgba(200,16,46,0.7)"/>
<circle cx="531.48" cy="1269.63" r="2" fill="rgba(200,16,46,0.7)"/>
<circle cx="522.73" cy="1269.52" r="2" fill="rgba(200,16,46,0.7)"/>
<circle cx="540.23" cy="1269.27" r="2" fill="rgba(200,16,46,0.7)"/>
<circle cx="518.36" cy="1269.77" r="2" fill="rgba(200,16,46,0.7)"/>
<circle cx="535.86" cy="1269.44" r="2" fill="rgba(200,16,46,0.7)"/>
<circle cx="527.11" cy="1269.33" r="2" fill="rgba(200,16,46,0.7)"/>
<circle cx="544.61" cy="1269.63" r="2" fill="rgba(200,16,46,0.7)"/>
<circle cx="511.25" cy="1269.8" r="2" fill="rgba(200,16,46,0.7)"/>
<circle cx="528.75" cy="1269.35" r="2" fill="rgba(200,16,46,0.7)"/>
<circle cx="520" cy="1269.6" r="2" fill="rgba(200,16,46,0.7)"/>
<circle cx="537.5" cy="1269.56" r="2" fill="rgba(200,16,46,0.7)"/>
<circle cx="515.62" cy="1269.63" r="2" fill="rgba(200,16,46,0.7)"/>
<circle cx="533.12" cy="1269.76" r="2" fill="rgba(200,16,46,0.7)"/>
<circle cx="524.37" cy="1269.41" r="2" fill="rgba(200,16,46,0.7)"/>
<circle cx="541.87" cy="1269.35" r="2" fill="rgba(200,16,46,0.7)"/>
<circle cx="513.43" cy="1269.44" r="2" fill="rgba(200,16,46,0.7)"/>
<circle cx="530.93" cy="1269.65" r="2" fill="rgba(200,16,46,0.7)"/>
<circle cx="522.18" cy="1269.63" r="2" fill="rgba(200,16,46,0.7)"/>
<circle cx="539.68" cy="1269.44" r="2" fill="rgba(200,16,46,0.7)"/>
<circle cx="517.81" cy="1269.79" r="2" fill="rgba(200,16,46,0.7)"/>
<circle cx="535.31" cy="1269.47" r="2" fill="rgba(200,16,46,0.7)"/>
<circle cx="526.56" cy="1269.42" r="2" fill="rgba(200,16,46,0.7)"/>
<circle cx="544.06" cy="1269.63" r="2" fill="rgba(200,16,46,0.7)"/>
<circle cx="512.34" cy="1269.25" r="2" fill="rgba(200,16,46,0.7)"/>
<circle cx="529.84" cy="1269.44" r="2" fill="rgba(200,16,46,0.7)"/>
<circle cx="521.09" cy="1269.66" r="2" fill="rgba(200,16,46,0.7)"/>
<circle cx="538.59" cy="1269.66" r="2" fill="rgba(200,16,46,0.7)"/>
<circle cx="516.72" cy="1269.37" r="2" fill="rgba(200,16,46,0.7)"/>
<circle cx="534.22" cy="1269.31" r="2" fill="rgba(200,16,46,0.7)"/>
<circle cx="525.47" cy="1269.48" r="2" fill="rgba(200,16,46,0.7)"/>
<circle cx="542.97" cy="1269.4" r="2" fill="rgba(200,16,46,0.7)"/>
<circle cx="514.53" cy="1269.64" r="2" fill="rgba(200,16,46,0.7)"/>
<circle cx="532.03" cy="1269.31" r="2" fill="rgba(200,16,46,0.7)"/>
<circle cx="523.28" cy="1269.4" r="2" fill="rgba(200,16,46,0.7)"/>
<circle cx="540.78" cy="1269.71" r="2" fill="rgba(200,16,46,0.7)"/>
<circle cx="518.9" cy="1269.57" r="2" fill="rgba(200,16,46,0.7)"/>
<circle cx="536.4" cy="1269.73" r="2" fill="rgba(200,16,46,0.7)"/>
<circle cx="527.65" cy="1269.79" r="2" fill="rgba(200,16,46,0.7)"/>
<circle cx="545.15" cy="1269.7" r="2" fill="rgba(200,16,46,0.7)"/>
<circle cx="510.97" cy="1269.31" r="2" fill="rgba(200,16,46,0.7)"/>
<circle cx="528.47" cy="1269.57" r="2" fill="rgba(200,16,46,0.7)"/>
<rect x="509.4" y="1267.4" width="36.9" height="4.3" rx="2.15" fill="#c8102e"/>
<rect x="123.1" y="924.4" width="189.2" height="361.8" fill="none" stroke="#5a5a5a" stroke-width="1.0"/>
<rect x="390.3" y="924.4" width="189" height="361.8" fill="none" stroke="#5a5a5a" stroke-width="1.0"/>
<line x1="120.6" y1="940.6" x2="123.1" y2="940.6" stroke="#333333" stroke-width="1.07"/>
<text x="118" y="949.5" font-size="18" text-anchor="end" fill="#4d4d4d">10</text>
<line x1="120.6" y1="1060.3" x2="123.1" y2="1060.3" stroke="#333333" stroke-width="1.07"/>
<text x="118" y="1069.2" font-size="18" text-anchor="end" fill="#4d4d4d">20</text>
<line x1="120.6" y1="1180" x2="123.1" y2="1180" stroke="#333333" stroke-width="1.07"/>
<text x="118" y="1188.9" font-size="18" text-anchor="end" fill="#4d4d4d">30</text>
<line x1="387.8" y1="1269.4" x2="390.3" y2="1269.4" stroke="#333333" stroke-width="1.07"/>
<text x="385.2" y="1278.3" font-size="18" text-anchor="end" fill="#4d4d4d">0</text>
<line x1="387.8" y1="1178.05" x2="390.3" y2="1178.05" stroke="#333333" stroke-width="1.07"/>
<text x="385.2" y="1186.95" font-size="18" text-anchor="end" fill="#4d4d4d">5</text>
<line x1="387.8" y1="1086.7" x2="390.3" y2="1086.7" stroke="#333333" stroke-width="1.07"/>
<text x="385.2" y="1095.6" font-size="18" text-anchor="end" fill="#4d4d4d">10</text>
<line x1="387.8" y1="995.35" x2="390.3" y2="995.35" stroke="#333333" stroke-width="1.07"/>
<text x="385.2" y="1004.25" font-size="18" text-anchor="end" fill="#4d4d4d">15</text>
<line x1="174.7" y1="1286.2" x2="174.7" y2="1288.2" stroke="#333333" stroke-width="1.07"/>
<line x1="261" y1="1286.2" x2="261" y2="1288.2" stroke="#333333" stroke-width="1.07"/>
<line x1="442" y1="1286.2" x2="442" y2="1288.2" stroke="#333333" stroke-width="1.07"/>
<line x1="528.2" y1="1286.2" x2="528.2" y2="1288.2" stroke="#333333" stroke-width="1.07"/>
<text x="177.4" y="1301.9" font-size="18" text-anchor="middle" fill="#4d4d4d">Minimal</text>
<text x="261.8" y="1301.9" font-size="18" text-anchor="middle" fill="#4d4d4d">Deficit</text>
<text x="444.3" y="1301.9" font-size="18" text-anchor="middle" fill="#4d4d4d">Minimal</text>
<text x="528.6" y="1301.9" font-size="18" text-anchor="middle" fill="#4d4d4d">Deficit</text>
<polyline points="174.4,946.3 174.4,941 260.8,941 260.8,946.3" fill="none" stroke="#555" stroke-width="1.1"/>
<text x="217.6" y="938.6" font-size="14.2" text-anchor="middle" fill="#000">0.0223</text>
<polyline points="441.7,945 441.7,940.8 528.2,940.8 528.2,945" fill="none" stroke="#555" stroke-width="1.1"/>
<text x="484.95" y="938.6" font-size="14.2" text-anchor="middle" fill="#000">0.000789</text>
<text x="0" y="0" font-size="21.7" text-anchor="middle" fill="#000" transform="translate(90.2,1099.6) rotate(-90)">N1 CT</text>
<text x="0" y="0" font-size="21.3" text-anchor="middle" fill="#000" transform="translate(360.8,1119.2) rotate(-90)">Spike IgG</text>
<text x="329.1" y="1331.3" font-size="21" text-anchor="middle" fill="#000">long COVID outcome</text>
</svg>
</body></html>
